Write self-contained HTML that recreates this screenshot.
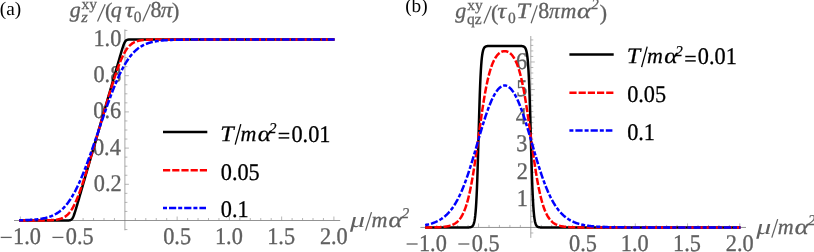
<!DOCTYPE html>
<html><head><meta charset="utf-8"><title>figure</title>
<style>html,body{margin:0;padding:0;background:#fff}body{width:814px;height:252px;overflow:hidden;font-family:"Liberation Serif",serif}svg{display:block;will-change:transform;text-rendering:geometricPrecision}</style>
</head><body>
<svg width="814" height="252" viewBox="0 0 814 252">
<rect width="814" height="252" fill="#fff"/>
<path d="M14 220.5H340.2" stroke="#777" stroke-width="0.8" fill="none"/>
<path d="M124.9 29.4V230.3" stroke="#777" stroke-width="0.65" fill="none"/>
<path d="M20.40 220.5v-4.0M30.85 220.5v-2.5M41.30 220.5v-2.5M51.75 220.5v-2.5M62.20 220.5v-2.5M72.65 220.5v-4.0M83.10 220.5v-2.5M93.55 220.5v-2.5M104.00 220.5v-2.5M114.45 220.5v-2.5M135.35 220.5v-2.5M145.80 220.5v-2.5M156.25 220.5v-2.5M166.70 220.5v-2.5M177.15 220.5v-4.0M187.60 220.5v-2.5M198.05 220.5v-2.5M208.50 220.5v-2.5M218.95 220.5v-2.5M229.40 220.5v-4.0M239.85 220.5v-2.5M250.30 220.5v-2.5M260.75 220.5v-2.5M271.20 220.5v-2.5M281.65 220.5v-4.0M292.10 220.5v-2.5M302.55 220.5v-2.5M313.00 220.5v-2.5M323.45 220.5v-2.5M333.90 220.5v-4.0M124.9 229.55h2.5M124.9 211.45h2.5M124.9 202.40h2.5M124.9 193.35h2.5M124.9 184.30h4.0M124.9 175.25h2.5M124.9 166.20h2.5M124.9 157.15h2.5M124.9 148.10h4.0M124.9 139.05h2.5M124.9 130.00h2.5M124.9 120.95h2.5M124.9 111.90h4.0M124.9 102.85h2.5M124.9 93.80h2.5M124.9 84.75h2.5M124.9 75.70h4.0M124.9 66.65h2.5M124.9 57.60h2.5M124.9 48.55h2.5M124.9 39.50h4.0M124.9 30.45h2.5" stroke="#909090" stroke-width="0.65" fill="none"/>
<path d="M420.4 227.45H746" stroke="#777" stroke-width="0.8" fill="none"/>
<path d="M530.8 36V237.9" stroke="#777" stroke-width="0.65" fill="none"/>
<path d="M426.30 227.45v-4.0M436.75 227.45v-2.5M447.20 227.45v-2.5M457.65 227.45v-2.5M468.10 227.45v-2.5M478.55 227.45v-4.0M489.00 227.45v-2.5M499.45 227.45v-2.5M509.90 227.45v-2.5M520.35 227.45v-2.5M541.25 227.45v-2.5M551.70 227.45v-2.5M562.15 227.45v-2.5M572.60 227.45v-2.5M583.05 227.45v-4.0M593.50 227.45v-2.5M603.95 227.45v-2.5M614.40 227.45v-2.5M624.85 227.45v-2.5M635.30 227.45v-4.0M645.75 227.45v-2.5M656.20 227.45v-2.5M666.65 227.45v-2.5M677.10 227.45v-2.5M687.55 227.45v-4.0M698.00 227.45v-2.5M708.45 227.45v-2.5M718.90 227.45v-2.5M729.35 227.45v-2.5M739.80 227.45v-4.0M530.8 232.97h2.5M530.8 221.93h2.5M530.8 216.42h2.5M530.8 210.90h2.5M530.8 205.39h2.5M530.8 199.87h4.0M530.8 194.35h2.5M530.8 188.84h2.5M530.8 183.32h2.5M530.8 177.81h2.5M530.8 172.29h4.0M530.8 166.77h2.5M530.8 161.26h2.5M530.8 155.74h2.5M530.8 150.23h2.5M530.8 144.71h4.0M530.8 139.19h2.5M530.8 133.68h2.5M530.8 128.16h2.5M530.8 122.65h2.5M530.8 117.13h4.0M530.8 111.61h2.5M530.8 106.10h2.5M530.8 100.58h2.5M530.8 95.07h2.5M530.8 89.55h4.0M530.8 84.03h2.5M530.8 78.52h2.5M530.8 73.00h2.5M530.8 67.49h2.5M530.8 61.97h4.0M530.8 56.45h2.5M530.8 50.94h2.5M530.8 45.42h2.5M530.8 39.91h2.5" stroke="#909090" stroke-width="0.65" fill="none"/>
<g font-family="Liberation Serif" font-size="22" fill="#606060" stroke="#606060" stroke-width="0.3">
<path d="M0.72 237.40h11.0" stroke="#606060" stroke-width="1.3"/>
<text transform="translate(13.06 244.00) scale(1 1.075)" font-size="22.3">1.0</text>
<path d="M406.62 244.00h11.0" stroke="#606060" stroke-width="1.3"/>
<text transform="translate(418.96 250.60) scale(1 1.075)" font-size="22.3">1.0</text>
<path d="M52.42 237.40h11.0" stroke="#606060" stroke-width="1.3"/>
<text transform="translate(65.87 244.00) scale(1 1.075)" font-size="22.3">0.5</text>
<path d="M458.32 244.00h11.0" stroke="#606060" stroke-width="1.3"/>
<text transform="translate(471.77 250.60) scale(1 1.075)" font-size="22.3">0.5</text>
<text transform="translate(163.22 244.00) scale(1 1.075)" font-size="22.3">0.5</text>
<text transform="translate(569.12 250.60) scale(1 1.075)" font-size="22.3">0.5</text>
<text transform="translate(214.91 244.00) scale(1 1.075)" font-size="22.3">1.0</text>
<text transform="translate(620.81 250.60) scale(1 1.075)" font-size="22.3">1.0</text>
<text transform="translate(267.17 244.00) scale(1 1.075)" font-size="22.3">1.5</text>
<text transform="translate(673.07 250.60) scale(1 1.075)" font-size="22.3">1.5</text>
<text transform="translate(319.90 244.00) scale(1 1.075)" font-size="22.3">2.0</text>
<text transform="translate(725.80 250.60) scale(1 1.075)" font-size="22.3">2.0</text>
<text transform="translate(93.86 190.80) scale(1 1.075)" font-size="22.3">0.2</text>
<text transform="translate(92.97 154.60) scale(1 1.075)" font-size="22.3">0.4</text>
<text transform="translate(93.29 118.40) scale(1 1.075)" font-size="22.3">0.6</text>
<text transform="translate(93.47 82.20) scale(1 1.075)" font-size="22.3">0.8</text>
<text transform="translate(93.47 46.00) scale(1 1.075)" font-size="22.3">1.0</text>
<text transform="translate(516.79 206.47) scale(1 1.075)" font-size="22.3">1</text>
<text transform="translate(516.68 178.89) scale(1 1.075)" font-size="22.3">2</text>
<text transform="translate(516.32 151.31) scale(1 1.075)" font-size="22.3">3</text>
<text transform="translate(515.80 123.73) scale(1 1.075)" font-size="22.3">4</text>
<text transform="translate(516.32 96.15) scale(1 1.075)" font-size="22.3">5</text>
<text transform="translate(516.11 68.57) scale(1 1.075)" font-size="22.3">6</text>
<text x="69.69" y="16.60" font-style="italic">g</text>
<text transform="translate(81.19 22.10) scale(1.1 1)" font-size="15.5" font-style="italic">z</text>
<text x="81.46" y="8.90" font-size="15.5">xy</text>
<path d="M97.50 21.40L105.20 4.20" stroke="#606060" stroke-width="1.25" fill="none"/>
<text x="105.03" y="17.80">(</text>
<text x="110.67" y="16.60" font-style="italic">q</text>
<text transform="translate(124.74 16.60) scale(1.15 1)" font-style="italic">τ</text>
<text x="133.81" y="21.80" font-size="15.5">0</text>
<path d="M142.70 21.40L150.40 4.20" stroke="#606060" stroke-width="1.25" fill="none"/>
<text transform="translate(150.56 16.60) scale(1 1.04)">8</text>
<text transform="translate(160.87 16.60) scale(1.08 1)" font-style="italic">π</text>
<text x="171.89" y="17.80">)</text>
<text x="455.19" y="18.40" font-style="italic">g</text>
<text x="466.94" y="23.80" font-size="15.5">qz</text>
<text x="467.36" y="9.50" font-size="15.5">xy</text>
<path d="M483.90 23.60L491.20 6.00" stroke="#606060" stroke-width="1.25" fill="none"/>
<text x="490.93" y="19.60">(</text>
<text transform="translate(497.24 18.40) scale(1.15 1)" font-style="italic">τ</text>
<text x="507.91" y="22.70" font-size="15.5">0</text>
<text transform="translate(516.52 18.40) scale(1.1 1)" font-style="italic">T</text>
<path d="M531.10 23.20L537.30 5.40" stroke="#606060" stroke-width="1.25" fill="none"/>
<text transform="translate(538.26 18.40) scale(1 1.04)">8</text>
<text transform="translate(548.88 18.40) scale(0.98 1)" font-style="italic">π</text>
<text x="560.51" y="18.40" font-style="italic">m</text>
<text transform="translate(577.01 18.40) scale(1.2 1)" font-style="italic">α</text>
<text x="591.29" y="9.40" font-size="15" font-style="italic">2</text>
<text x="599.69" y="19.60">)</text>
<text stroke="none" transform="translate(350.03 227.20) scale(1.36 1)" font-style="italic">μ</text>
<path d="M365.60 230.60L371.50 212.10" stroke="#606060" stroke-width="1.25" fill="none"/>
<text x="371.51" y="227.20" font-style="italic">m</text>
<text transform="translate(388.61 227.20) scale(1.2 1)" font-style="italic">α</text>
<text x="401.79" y="217.90" font-size="15" font-style="italic">2</text>
<text stroke="none" transform="translate(756.23 234.20) scale(1.36 1)" font-style="italic">μ</text>
<path d="M771.80 237.60L777.70 219.10" stroke="#606060" stroke-width="1.25" fill="none"/>
<text x="777.71" y="234.20" font-style="italic">m</text>
<text transform="translate(794.81 234.20) scale(1.2 1)" font-style="italic">α</text>
<text x="807.99" y="224.90" font-size="15" font-style="italic">2</text>
</g>
<path d="M19.25 220.50L19.60 220.50L19.95 220.50L20.29 220.50L20.64 220.50L20.99 220.50L21.34 220.50L21.69 220.50L22.03 220.50L22.38 220.50L22.73 220.50L23.08 220.50L23.43 220.50L23.77 220.50L24.12 220.50L24.47 220.50L24.82 220.50L25.17 220.50L25.51 220.50L25.86 220.50L26.21 220.50L26.56 220.50L26.91 220.50L27.25 220.50L27.60 220.50L27.95 220.50L28.30 220.50L28.65 220.50L28.99 220.50L29.34 220.50L29.69 220.50L30.04 220.50L30.39 220.50L30.73 220.50L31.08 220.50L31.43 220.50L31.78 220.50L32.13 220.50L32.47 220.50L32.82 220.50L33.17 220.50L33.52 220.50L33.87 220.50L34.21 220.50L34.56 220.50L34.91 220.50L35.26 220.50L35.61 220.50L35.95 220.50L36.30 220.50L36.65 220.50L37.00 220.50L37.35 220.50L37.69 220.50L38.04 220.50L38.39 220.50L38.74 220.50L39.09 220.50L39.43 220.50L39.78 220.50L40.13 220.50L40.48 220.50L40.83 220.50L41.17 220.50L41.52 220.50L41.87 220.50L42.22 220.50L42.57 220.50L42.91 220.50L43.26 220.50L43.61 220.50L43.96 220.50L44.31 220.50L44.65 220.50L45.00 220.50L45.35 220.50L45.70 220.50L46.05 220.50L46.39 220.50L46.74 220.50L47.09 220.50L47.44 220.50L47.79 220.50L48.13 220.50L48.48 220.50L48.83 220.50L49.18 220.50L49.53 220.50L49.87 220.50L50.22 220.50L50.57 220.50L50.92 220.50L51.27 220.50L51.61 220.50L51.96 220.50L52.31 220.50L52.66 220.50L53.01 220.50L53.35 220.50L53.70 220.50L54.05 220.50L54.40 220.50L54.75 220.50L55.09 220.50L55.44 220.50L55.79 220.50L56.14 220.50L56.49 220.50L56.83 220.50L57.18 220.50L57.53 220.50L57.88 220.50L58.23 220.50L58.57 220.50L58.92 220.50L59.27 220.50L59.62 220.50L59.97 220.50L60.31 220.50L60.66 220.50L61.01 220.50L61.36 220.50L61.70 220.50L62.05 220.50L62.40 220.50L62.75 220.50L63.10 220.50L63.44 220.50L63.79 220.50L64.14 220.50L64.49 220.50L64.84 220.50L65.18 220.50L65.53 220.50L65.88 220.49L66.23 220.49L66.58 220.49L66.92 220.48L67.27 220.48L67.62 220.47L67.97 220.46L68.32 220.44L68.66 220.42L69.01 220.39L69.36 220.35L69.71 220.29L70.06 220.21L70.40 220.10L70.75 219.95L71.10 219.76L71.45 219.50L71.80 219.18L72.14 218.76L72.49 218.25L72.84 217.65L73.19 216.94L73.54 216.14L73.88 215.25L74.23 214.30L74.58 213.28L74.93 212.22L75.28 211.12L75.62 209.99L75.97 208.84L76.32 207.68L76.67 206.50L77.02 205.32L77.36 204.13L77.71 202.93L78.06 201.74L78.41 200.54L78.76 199.34L79.10 198.13L79.45 196.93L79.80 195.73L80.15 194.52L80.50 193.32L80.84 192.11L81.19 190.91L81.54 189.70L81.89 188.50L82.24 187.29L82.58 186.09L82.93 184.88L83.28 183.68L83.63 182.47L83.98 181.26L84.32 180.06L84.67 178.85L85.02 177.65L85.37 176.44L85.72 175.24L86.06 174.03L86.41 172.83L86.76 171.62L87.11 170.42L87.46 169.21L87.80 168.00L88.15 166.80L88.50 165.59L88.85 164.39L89.20 163.18L89.54 161.98L89.89 160.77L90.24 159.57L90.59 158.36L90.94 157.16L91.28 155.95L91.63 154.74L91.98 153.54L92.33 152.33L92.68 151.13L93.02 149.92L93.37 148.72L93.72 147.51L94.07 146.31L94.42 145.10L94.76 143.90L95.11 142.69L95.46 141.48L95.81 140.28L96.16 139.07L96.50 137.87L96.85 136.66L97.20 135.46L97.55 134.25L97.90 133.05L98.24 131.84L98.59 130.64L98.94 129.43L99.29 128.22L99.64 127.02L99.98 125.81L100.33 124.61L100.68 123.40L101.03 122.20L101.38 120.99L101.72 119.79L102.07 118.58L102.42 117.38L102.77 116.17L103.12 114.96L103.46 113.76L103.81 112.55L104.16 111.35L104.51 110.14L104.86 108.94L105.20 107.73L105.55 106.53L105.90 105.32L106.25 104.12L106.60 102.91L106.94 101.70L107.29 100.50L107.64 99.29L107.99 98.09L108.34 96.88L108.68 95.68L109.03 94.47L109.38 93.27L109.73 92.06L110.08 90.85L110.42 89.65L110.77 88.44L111.12 87.24L111.47 86.03L111.82 84.83L112.16 83.62L112.51 82.42L112.86 81.21L113.21 80.01L113.56 78.80L113.90 77.59L114.25 76.39L114.60 75.18L114.95 73.98L115.29 72.77L115.64 71.57L115.99 70.36L116.34 69.16L116.69 67.95L117.03 66.75L117.38 65.54L117.73 64.34L118.08 63.13L118.43 61.93L118.77 60.73L119.12 59.53L119.47 58.33L119.82 57.13L120.17 55.94L120.51 54.74L120.86 53.56L121.21 52.38L121.56 51.22L121.91 50.07L122.25 48.94L122.60 47.84L122.95 46.77L123.30 45.76L123.65 44.80L123.99 43.91L124.34 43.10L124.69 42.39L125.04 41.78L125.39 41.26L125.73 40.84L126.08 40.51L126.43 40.25L126.78 40.05L127.13 39.91L127.47 39.80L127.82 39.71L128.17 39.65L128.52 39.61L128.87 39.58L129.21 39.56L129.56 39.54L129.91 39.53L130.26 39.52L130.61 39.52L130.95 39.51L131.30 39.51L131.65 39.51L132.00 39.50L132.35 39.50L132.69 39.50L133.04 39.50L133.39 39.50L133.74 39.50L134.09 39.50L134.43 39.50L134.78 39.50L135.13 39.50L135.48 39.50L135.83 39.50L136.17 39.50L136.52 39.50L136.87 39.50L137.22 39.50L137.57 39.50L137.91 39.50L138.26 39.50L138.61 39.50L138.96 39.50L139.31 39.50L139.65 39.50L140.00 39.50L140.35 39.50L140.70 39.50L141.05 39.50L141.39 39.50L141.74 39.50L142.09 39.50L142.44 39.50L142.79 39.50L143.13 39.50L143.48 39.50L143.83 39.50L144.18 39.50L144.53 39.50L144.87 39.50L145.22 39.50L145.57 39.50L145.92 39.50L146.27 39.50L146.61 39.50L146.96 39.50L147.31 39.50L147.66 39.50L148.01 39.50L148.35 39.50L148.70 39.50L149.05 39.50L149.40 39.50L149.75 39.50L150.09 39.50L150.44 39.50L150.79 39.50L151.14 39.50L151.49 39.50L151.83 39.50L152.18 39.50L152.53 39.50L152.88 39.50L153.23 39.50L153.57 39.50L153.92 39.50L154.27 39.50L154.62 39.50L154.97 39.50L155.31 39.50L155.66 39.50L156.01 39.50L156.36 39.50L156.71 39.50L157.05 39.50L157.40 39.50L157.75 39.50L158.10 39.50L158.45 39.50L158.79 39.50L159.14 39.50L159.49 39.50L159.84 39.50L160.19 39.50L160.53 39.50L160.88 39.50L161.23 39.50L161.58 39.50L161.93 39.50L162.27 39.50L162.62 39.50L162.97 39.50L163.32 39.50L163.67 39.50L164.01 39.50L164.36 39.50L164.71 39.50L165.06 39.50L165.41 39.50L165.75 39.50L166.10 39.50L166.45 39.50L166.80 39.50L167.15 39.50L167.49 39.50L167.84 39.50L168.19 39.50L168.54 39.50L168.89 39.50L169.23 39.50L169.58 39.50L169.93 39.50L170.28 39.50L170.62 39.50L170.97 39.50L171.32 39.50L171.67 39.50L172.02 39.50L172.36 39.50L172.71 39.50L173.06 39.50L173.41 39.50L173.76 39.50L174.10 39.50L174.45 39.50L174.80 39.50L175.15 39.50L175.50 39.50L175.84 39.50L176.19 39.50L176.54 39.50L176.89 39.50L177.24 39.50L177.58 39.50L177.93 39.50L178.28 39.50L178.63 39.50L178.98 39.50L179.32 39.50L179.67 39.50L180.02 39.50L180.37 39.50L180.72 39.50L181.06 39.50L181.41 39.50L181.76 39.50L182.11 39.50L182.46 39.50L182.80 39.50L183.15 39.50L183.50 39.50L183.85 39.50L184.20 39.50L184.54 39.50L184.89 39.50L185.24 39.50L185.59 39.50L185.94 39.50L186.28 39.50L186.63 39.50L186.98 39.50L187.33 39.50L187.68 39.50L188.02 39.50L188.37 39.50L188.72 39.50L189.07 39.50L189.42 39.50L189.76 39.50L190.11 39.50L190.46 39.50L190.81 39.50L191.16 39.50L191.50 39.50L191.85 39.50L192.20 39.50L192.55 39.50L192.90 39.50L193.24 39.50L193.59 39.50L193.94 39.50L194.29 39.50L194.64 39.50L194.98 39.50L195.33 39.50L195.68 39.50L196.03 39.50L196.38 39.50L196.72 39.50L197.07 39.50L197.42 39.50L197.77 39.50L198.12 39.50L198.46 39.50L198.81 39.50L199.16 39.50L199.51 39.50L199.86 39.50L200.20 39.50L200.55 39.50L200.90 39.50L201.25 39.50L201.60 39.50L201.94 39.50L202.29 39.50L202.64 39.50L202.99 39.50L203.34 39.50L203.68 39.50L204.03 39.50L204.38 39.50L204.73 39.50L205.08 39.50L205.42 39.50L205.77 39.50L206.12 39.50L206.47 39.50L206.82 39.50L207.16 39.50L207.51 39.50L207.86 39.50L208.21 39.50L208.56 39.50L208.90 39.50L209.25 39.50L209.60 39.50L209.95 39.50L210.30 39.50L210.64 39.50L210.99 39.50L211.34 39.50L211.69 39.50L212.04 39.50L212.38 39.50L212.73 39.50L213.08 39.50L213.43 39.50L213.78 39.50L214.12 39.50L214.47 39.50L214.82 39.50L215.17 39.50L215.52 39.50L215.86 39.50L216.21 39.50L216.56 39.50L216.91 39.50L217.26 39.50L217.60 39.50L217.95 39.50L218.30 39.50L218.65 39.50L219.00 39.50L219.34 39.50L219.69 39.50L220.04 39.50L220.39 39.50L220.74 39.50L221.08 39.50L221.43 39.50L221.78 39.50L222.13 39.50L222.48 39.50L222.82 39.50L223.17 39.50L223.52 39.50L223.87 39.50L224.22 39.50L224.56 39.50L224.91 39.50L225.26 39.50L225.61 39.50L225.95 39.50L226.30 39.50L226.65 39.50L227.00 39.50L227.35 39.50L227.69 39.50L228.04 39.50L228.39 39.50L228.74 39.50L229.09 39.50L229.43 39.50L229.78 39.50L230.13 39.50L230.48 39.50L230.83 39.50L231.17 39.50L231.52 39.50L231.87 39.50L232.22 39.50L232.57 39.50L232.91 39.50L233.26 39.50L233.61 39.50L233.96 39.50L234.31 39.50L234.65 39.50L235.00 39.50L235.35 39.50L235.70 39.50L236.05 39.50L236.39 39.50L236.74 39.50L237.09 39.50L237.44 39.50L237.79 39.50L238.13 39.50L238.48 39.50L238.83 39.50L239.18 39.50L239.53 39.50L239.87 39.50L240.22 39.50L240.57 39.50L240.92 39.50L241.27 39.50L241.61 39.50L241.96 39.50L242.31 39.50L242.66 39.50L243.01 39.50L243.35 39.50L243.70 39.50L244.05 39.50L244.40 39.50L244.75 39.50L245.09 39.50L245.44 39.50L245.79 39.50L246.14 39.50L246.49 39.50L246.83 39.50L247.18 39.50L247.53 39.50L247.88 39.50L248.23 39.50L248.57 39.50L248.92 39.50L249.27 39.50L249.62 39.50L249.97 39.50L250.31 39.50L250.66 39.50L251.01 39.50L251.36 39.50L251.71 39.50L252.05 39.50L252.40 39.50L252.75 39.50L253.10 39.50L253.45 39.50L253.79 39.50L254.14 39.50L254.49 39.50L254.84 39.50L255.19 39.50L255.53 39.50L255.88 39.50L256.23 39.50L256.58 39.50L256.93 39.50L257.27 39.50L257.62 39.50L257.97 39.50L258.32 39.50L258.67 39.50L259.01 39.50L259.36 39.50L259.71 39.50L260.06 39.50L260.41 39.50L260.75 39.50L261.10 39.50L261.45 39.50L261.80 39.50L262.15 39.50L262.49 39.50L262.84 39.50L263.19 39.50L263.54 39.50L263.89 39.50L264.23 39.50L264.58 39.50L264.93 39.50L265.28 39.50L265.63 39.50L265.97 39.50L266.32 39.50L266.67 39.50L267.02 39.50L267.37 39.50L267.71 39.50L268.06 39.50L268.41 39.50L268.76 39.50L269.11 39.50L269.45 39.50L269.80 39.50L270.15 39.50L270.50 39.50L270.85 39.50L271.19 39.50L271.54 39.50L271.89 39.50L272.24 39.50L272.59 39.50L272.93 39.50L273.28 39.50L273.63 39.50L273.98 39.50L274.33 39.50L274.67 39.50L275.02 39.50L275.37 39.50L275.72 39.50L276.07 39.50L276.41 39.50L276.76 39.50L277.11 39.50L277.46 39.50L277.81 39.50L278.15 39.50L278.50 39.50L278.85 39.50L279.20 39.50L279.55 39.50L279.89 39.50L280.24 39.50L280.59 39.50L280.94 39.50L281.28 39.50L281.63 39.50L281.98 39.50L282.33 39.50L282.68 39.50L283.02 39.50L283.37 39.50L283.72 39.50L284.07 39.50L284.42 39.50L284.76 39.50L285.11 39.50L285.46 39.50L285.81 39.50L286.16 39.50L286.50 39.50L286.85 39.50L287.20 39.50L287.55 39.50L287.90 39.50L288.24 39.50L288.59 39.50L288.94 39.50L289.29 39.50L289.64 39.50L289.98 39.50L290.33 39.50L290.68 39.50L291.03 39.50L291.38 39.50L291.72 39.50L292.07 39.50L292.42 39.50L292.77 39.50L293.12 39.50L293.46 39.50L293.81 39.50L294.16 39.50L294.51 39.50L294.86 39.50L295.20 39.50L295.55 39.50L295.90 39.50L296.25 39.50L296.60 39.50L296.94 39.50L297.29 39.50L297.64 39.50L297.99 39.50L298.34 39.50L298.68 39.50L299.03 39.50L299.38 39.50L299.73 39.50L300.08 39.50L300.42 39.50L300.77 39.50L301.12 39.50L301.47 39.50L301.82 39.50L302.16 39.50L302.51 39.50L302.86 39.50L303.21 39.50L303.56 39.50L303.90 39.50L304.25 39.50L304.60 39.50L304.95 39.50L305.30 39.50L305.64 39.50L305.99 39.50L306.34 39.50L306.69 39.50L307.04 39.50L307.38 39.50L307.73 39.50L308.08 39.50L308.43 39.50L308.78 39.50L309.12 39.50L309.47 39.50L309.82 39.50L310.17 39.50L310.52 39.50L310.86 39.50L311.21 39.50L311.56 39.50L311.91 39.50L312.26 39.50L312.60 39.50L312.95 39.50L313.30 39.50L313.65 39.50L314.00 39.50L314.34 39.50L314.69 39.50L315.04 39.50L315.39 39.50L315.74 39.50L316.08 39.50L316.43 39.50L316.78 39.50L317.13 39.50L317.48 39.50L317.82 39.50L318.17 39.50L318.52 39.50L318.87 39.50L319.22 39.50L319.56 39.50L319.91 39.50L320.26 39.50L320.61 39.50L320.96 39.50L321.30 39.50L321.65 39.50L322.00 39.50L322.35 39.50L322.70 39.50L323.04 39.50L323.39 39.50L323.74 39.50L324.09 39.50L324.44 39.50L324.78 39.50L325.13 39.50L325.48 39.50L325.83 39.50L326.18 39.50L326.52 39.50L326.87 39.50L327.22 39.50L327.57 39.50L327.92 39.50L328.26 39.50L328.61 39.50L328.96 39.50L329.31 39.50L329.66 39.50L330.00 39.50L330.35 39.50L330.70 39.50L331.05 39.50L331.40 39.50L331.74 39.50L332.09 39.50L332.44 39.50L332.79 39.50L333.14 39.50L333.48 39.50L333.83 39.50L334.18 39.50L334.53 39.50" stroke="#000" stroke-width="2.5" fill="none" stroke-linejoin="round"/>
<path d="M19.25 220.50L19.60 220.50L19.95 220.50L20.29 220.50L20.64 220.50L20.99 220.50L21.34 220.50L21.69 220.50L22.03 220.50L22.38 220.50L22.73 220.50L23.08 220.50L23.43 220.50L23.77 220.50L24.12 220.50L24.47 220.50L24.82 220.50L25.17 220.50L25.51 220.50L25.86 220.50L26.21 220.50L26.56 220.50L26.91 220.50L27.25 220.50L27.60 220.50L27.95 220.50L28.30 220.50L28.65 220.50L28.99 220.50L29.34 220.50L29.69 220.50L30.04 220.49L30.39 220.49L30.73 220.49L31.08 220.49L31.43 220.49L31.78 220.49L32.13 220.49L32.47 220.49L32.82 220.49L33.17 220.49L33.52 220.49L33.87 220.49L34.21 220.49L34.56 220.49L34.91 220.49L35.26 220.49L35.61 220.48L35.95 220.48L36.30 220.48L36.65 220.48L37.00 220.48L37.35 220.48L37.69 220.48L38.04 220.48L38.39 220.47L38.74 220.47L39.09 220.47L39.43 220.47L39.78 220.47L40.13 220.46L40.48 220.46L40.83 220.46L41.17 220.46L41.52 220.45L41.87 220.45L42.22 220.45L42.57 220.44L42.91 220.44L43.26 220.43L43.61 220.43L43.96 220.43L44.31 220.42L44.65 220.41L45.00 220.41L45.35 220.40L45.70 220.40L46.05 220.39L46.39 220.38L46.74 220.37L47.09 220.36L47.44 220.36L47.79 220.35L48.13 220.33L48.48 220.32L48.83 220.31L49.18 220.30L49.53 220.28L49.87 220.27L50.22 220.25L50.57 220.24L50.92 220.22L51.27 220.20L51.61 220.18L51.96 220.16L52.31 220.13L52.66 220.11L53.01 220.08L53.35 220.05L53.70 220.02L54.05 219.99L54.40 219.96L54.75 219.92L55.09 219.88L55.44 219.84L55.79 219.80L56.14 219.75L56.49 219.70L56.83 219.64L57.18 219.59L57.53 219.52L57.88 219.46L58.23 219.39L58.57 219.32L58.92 219.24L59.27 219.15L59.62 219.06L59.97 218.97L60.31 218.87L60.66 218.76L61.01 218.65L61.36 218.53L61.70 218.40L62.05 218.26L62.40 218.12L62.75 217.97L63.10 217.80L63.44 217.63L63.79 217.45L64.14 217.26L64.49 217.05L64.84 216.84L65.18 216.61L65.53 216.37L65.88 216.12L66.23 215.85L66.58 215.57L66.92 215.28L67.27 214.97L67.62 214.65L67.97 214.30L68.32 213.95L68.66 213.57L69.01 213.18L69.36 212.77L69.71 212.34L70.06 211.89L70.40 211.43L70.75 210.94L71.10 210.44L71.45 209.92L71.80 209.37L72.14 208.81L72.49 208.23L72.84 207.62L73.19 207.00L73.54 206.35L73.88 205.69L74.23 205.01L74.58 204.30L74.93 203.58L75.28 202.84L75.62 202.08L75.97 201.30L76.32 200.50L76.67 199.69L77.02 198.86L77.36 198.01L77.71 197.14L78.06 196.26L78.41 195.36L78.76 194.45L79.10 193.52L79.45 192.58L79.80 191.63L80.15 190.66L80.50 189.68L80.84 188.69L81.19 187.69L81.54 186.67L81.89 185.65L82.24 184.62L82.58 183.57L82.93 182.52L83.28 181.46L83.63 180.39L83.98 179.31L84.32 178.23L84.67 177.13L85.02 176.04L85.37 174.93L85.72 173.82L86.06 172.70L86.41 171.58L86.76 170.46L87.11 169.33L87.46 168.19L87.80 167.05L88.15 165.91L88.50 164.76L88.85 163.61L89.20 162.46L89.54 161.30L89.89 160.14L90.24 158.98L90.59 157.81L90.94 156.64L91.28 155.47L91.63 154.30L91.98 153.13L92.33 151.96L92.68 150.78L93.02 149.60L93.37 148.42L93.72 147.24L94.07 146.06L94.42 144.88L94.76 143.69L95.11 142.51L95.46 141.32L95.81 140.13L96.16 138.95L96.50 137.76L96.85 136.57L97.20 135.38L97.55 134.19L97.90 133.01L98.24 131.82L98.59 130.63L98.94 129.44L99.29 128.25L99.64 127.06L99.98 125.87L100.33 124.68L100.68 123.49L101.03 122.30L101.38 121.12L101.72 119.93L102.07 118.74L102.42 117.56L102.77 116.37L103.12 115.19L103.46 114.01L103.81 112.82L104.16 111.64L104.51 110.46L104.86 109.29L105.20 108.11L105.55 106.93L105.90 105.76L106.25 104.59L106.60 103.42L106.94 102.25L107.29 101.09L107.64 99.92L107.99 98.76L108.34 97.61L108.68 96.45L109.03 95.30L109.38 94.15L109.73 93.01L110.08 91.87L110.42 90.74L110.77 89.60L111.12 88.48L111.47 87.36L111.82 86.24L112.16 85.13L112.51 84.02L112.86 82.92L113.21 81.83L113.56 80.75L113.90 79.67L114.25 78.60L114.60 77.54L114.95 76.48L115.29 75.44L115.64 74.41L115.99 73.38L116.34 72.37L116.69 71.36L117.03 70.37L117.38 69.39L117.73 68.42L118.08 67.47L118.43 66.53L118.77 65.60L119.12 64.69L119.47 63.79L119.82 62.90L120.17 62.04L120.51 61.19L120.86 60.36L121.21 59.54L121.56 58.74L121.91 57.96L122.25 57.20L122.60 56.46L122.95 55.73L123.30 55.03L123.65 54.35L123.99 53.68L124.34 53.04L124.69 52.41L125.04 51.81L125.39 51.22L125.73 50.66L126.08 50.11L126.43 49.59L126.78 49.08L127.13 48.60L127.47 48.13L127.82 47.68L128.17 47.25L128.52 46.84L128.87 46.45L129.21 46.07L129.56 45.71L129.91 45.37L130.26 45.05L130.61 44.74L130.95 44.44L131.30 44.16L131.65 43.89L132.00 43.64L132.35 43.40L132.69 43.17L133.04 42.96L133.39 42.75L133.74 42.56L134.09 42.38L134.43 42.21L134.78 42.04L135.13 41.89L135.48 41.74L135.83 41.61L136.17 41.48L136.52 41.36L136.87 41.24L137.22 41.14L137.57 41.04L137.91 40.94L138.26 40.85L138.61 40.77L138.96 40.69L139.31 40.61L139.65 40.54L140.00 40.48L140.35 40.42L140.70 40.36L141.05 40.31L141.39 40.25L141.74 40.21L142.09 40.16L142.44 40.12L142.79 40.08L143.13 40.04L143.48 40.01L143.83 39.98L144.18 39.95L144.53 39.92L144.87 39.89L145.22 39.87L145.57 39.84L145.92 39.82L146.27 39.80L146.61 39.78L146.96 39.76L147.31 39.75L147.66 39.73L148.01 39.72L148.35 39.70L148.70 39.69L149.05 39.68L149.40 39.67L149.75 39.66L150.09 39.65L150.44 39.64L150.79 39.63L151.14 39.62L151.49 39.61L151.83 39.60L152.18 39.60L152.53 39.59L152.88 39.59L153.23 39.58L153.57 39.57L153.92 39.57L154.27 39.57L154.62 39.56L154.97 39.56L155.31 39.55L155.66 39.55L156.01 39.55L156.36 39.54L156.71 39.54L157.05 39.54L157.40 39.54L157.75 39.53L158.10 39.53L158.45 39.53L158.79 39.53L159.14 39.53L159.49 39.52L159.84 39.52L160.19 39.52L160.53 39.52L160.88 39.52L161.23 39.52L161.58 39.52L161.93 39.52L162.27 39.51L162.62 39.51L162.97 39.51L163.32 39.51L163.67 39.51L164.01 39.51L164.36 39.51L164.71 39.51L165.06 39.51L165.41 39.51L165.75 39.51L166.10 39.51L166.45 39.51L166.80 39.51L167.15 39.51L167.49 39.51L167.84 39.50L168.19 39.50L168.54 39.50L168.89 39.50L169.23 39.50L169.58 39.50L169.93 39.50L170.28 39.50L170.62 39.50L170.97 39.50L171.32 39.50L171.67 39.50L172.02 39.50L172.36 39.50L172.71 39.50L173.06 39.50L173.41 39.50L173.76 39.50L174.10 39.50L174.45 39.50L174.80 39.50L175.15 39.50L175.50 39.50L175.84 39.50L176.19 39.50L176.54 39.50L176.89 39.50L177.24 39.50L177.58 39.50L177.93 39.50L178.28 39.50L178.63 39.50L178.98 39.50L179.32 39.50L179.67 39.50L180.02 39.50L180.37 39.50L180.72 39.50L181.06 39.50L181.41 39.50L181.76 39.50L182.11 39.50L182.46 39.50L182.80 39.50L183.15 39.50L183.50 39.50L183.85 39.50L184.20 39.50L184.54 39.50L184.89 39.50L185.24 39.50L185.59 39.50L185.94 39.50L186.28 39.50L186.63 39.50L186.98 39.50L187.33 39.50L187.68 39.50L188.02 39.50L188.37 39.50L188.72 39.50L189.07 39.50L189.42 39.50L189.76 39.50L190.11 39.50L190.46 39.50L190.81 39.50L191.16 39.50L191.50 39.50L191.85 39.50L192.20 39.50L192.55 39.50L192.90 39.50L193.24 39.50L193.59 39.50L193.94 39.50L194.29 39.50L194.64 39.50L194.98 39.50L195.33 39.50L195.68 39.50L196.03 39.50L196.38 39.50L196.72 39.50L197.07 39.50L197.42 39.50L197.77 39.50L198.12 39.50L198.46 39.50L198.81 39.50L199.16 39.50L199.51 39.50L199.86 39.50L200.20 39.50L200.55 39.50L200.90 39.50L201.25 39.50L201.60 39.50L201.94 39.50L202.29 39.50L202.64 39.50L202.99 39.50L203.34 39.50L203.68 39.50L204.03 39.50L204.38 39.50L204.73 39.50L205.08 39.50L205.42 39.50L205.77 39.50L206.12 39.50L206.47 39.50L206.82 39.50L207.16 39.50L207.51 39.50L207.86 39.50L208.21 39.50L208.56 39.50L208.90 39.50L209.25 39.50L209.60 39.50L209.95 39.50L210.30 39.50L210.64 39.50L210.99 39.50L211.34 39.50L211.69 39.50L212.04 39.50L212.38 39.50L212.73 39.50L213.08 39.50L213.43 39.50L213.78 39.50L214.12 39.50L214.47 39.50L214.82 39.50L215.17 39.50L215.52 39.50L215.86 39.50L216.21 39.50L216.56 39.50L216.91 39.50L217.26 39.50L217.60 39.50L217.95 39.50L218.30 39.50L218.65 39.50L219.00 39.50L219.34 39.50L219.69 39.50L220.04 39.50L220.39 39.50L220.74 39.50L221.08 39.50L221.43 39.50L221.78 39.50L222.13 39.50L222.48 39.50L222.82 39.50L223.17 39.50L223.52 39.50L223.87 39.50L224.22 39.50L224.56 39.50L224.91 39.50L225.26 39.50L225.61 39.50L225.95 39.50L226.30 39.50L226.65 39.50L227.00 39.50L227.35 39.50L227.69 39.50L228.04 39.50L228.39 39.50L228.74 39.50L229.09 39.50L229.43 39.50L229.78 39.50L230.13 39.50L230.48 39.50L230.83 39.50L231.17 39.50L231.52 39.50L231.87 39.50L232.22 39.50L232.57 39.50L232.91 39.50L233.26 39.50L233.61 39.50L233.96 39.50L234.31 39.50L234.65 39.50L235.00 39.50L235.35 39.50L235.70 39.50L236.05 39.50L236.39 39.50L236.74 39.50L237.09 39.50L237.44 39.50L237.79 39.50L238.13 39.50L238.48 39.50L238.83 39.50L239.18 39.50L239.53 39.50L239.87 39.50L240.22 39.50L240.57 39.50L240.92 39.50L241.27 39.50L241.61 39.50L241.96 39.50L242.31 39.50L242.66 39.50L243.01 39.50L243.35 39.50L243.70 39.50L244.05 39.50L244.40 39.50L244.75 39.50L245.09 39.50L245.44 39.50L245.79 39.50L246.14 39.50L246.49 39.50L246.83 39.50L247.18 39.50L247.53 39.50L247.88 39.50L248.23 39.50L248.57 39.50L248.92 39.50L249.27 39.50L249.62 39.50L249.97 39.50L250.31 39.50L250.66 39.50L251.01 39.50L251.36 39.50L251.71 39.50L252.05 39.50L252.40 39.50L252.75 39.50L253.10 39.50L253.45 39.50L253.79 39.50L254.14 39.50L254.49 39.50L254.84 39.50L255.19 39.50L255.53 39.50L255.88 39.50L256.23 39.50L256.58 39.50L256.93 39.50L257.27 39.50L257.62 39.50L257.97 39.50L258.32 39.50L258.67 39.50L259.01 39.50L259.36 39.50L259.71 39.50L260.06 39.50L260.41 39.50L260.75 39.50L261.10 39.50L261.45 39.50L261.80 39.50L262.15 39.50L262.49 39.50L262.84 39.50L263.19 39.50L263.54 39.50L263.89 39.50L264.23 39.50L264.58 39.50L264.93 39.50L265.28 39.50L265.63 39.50L265.97 39.50L266.32 39.50L266.67 39.50L267.02 39.50L267.37 39.50L267.71 39.50L268.06 39.50L268.41 39.50L268.76 39.50L269.11 39.50L269.45 39.50L269.80 39.50L270.15 39.50L270.50 39.50L270.85 39.50L271.19 39.50L271.54 39.50L271.89 39.50L272.24 39.50L272.59 39.50L272.93 39.50L273.28 39.50L273.63 39.50L273.98 39.50L274.33 39.50L274.67 39.50L275.02 39.50L275.37 39.50L275.72 39.50L276.07 39.50L276.41 39.50L276.76 39.50L277.11 39.50L277.46 39.50L277.81 39.50L278.15 39.50L278.50 39.50L278.85 39.50L279.20 39.50L279.55 39.50L279.89 39.50L280.24 39.50L280.59 39.50L280.94 39.50L281.28 39.50L281.63 39.50L281.98 39.50L282.33 39.50L282.68 39.50L283.02 39.50L283.37 39.50L283.72 39.50L284.07 39.50L284.42 39.50L284.76 39.50L285.11 39.50L285.46 39.50L285.81 39.50L286.16 39.50L286.50 39.50L286.85 39.50L287.20 39.50L287.55 39.50L287.90 39.50L288.24 39.50L288.59 39.50L288.94 39.50L289.29 39.50L289.64 39.50L289.98 39.50L290.33 39.50L290.68 39.50L291.03 39.50L291.38 39.50L291.72 39.50L292.07 39.50L292.42 39.50L292.77 39.50L293.12 39.50L293.46 39.50L293.81 39.50L294.16 39.50L294.51 39.50L294.86 39.50L295.20 39.50L295.55 39.50L295.90 39.50L296.25 39.50L296.60 39.50L296.94 39.50L297.29 39.50L297.64 39.50L297.99 39.50L298.34 39.50L298.68 39.50L299.03 39.50L299.38 39.50L299.73 39.50L300.08 39.50L300.42 39.50L300.77 39.50L301.12 39.50L301.47 39.50L301.82 39.50L302.16 39.50L302.51 39.50L302.86 39.50L303.21 39.50L303.56 39.50L303.90 39.50L304.25 39.50L304.60 39.50L304.95 39.50L305.30 39.50L305.64 39.50L305.99 39.50L306.34 39.50L306.69 39.50L307.04 39.50L307.38 39.50L307.73 39.50L308.08 39.50L308.43 39.50L308.78 39.50L309.12 39.50L309.47 39.50L309.82 39.50L310.17 39.50L310.52 39.50L310.86 39.50L311.21 39.50L311.56 39.50L311.91 39.50L312.26 39.50L312.60 39.50L312.95 39.50L313.30 39.50L313.65 39.50L314.00 39.50L314.34 39.50L314.69 39.50L315.04 39.50L315.39 39.50L315.74 39.50L316.08 39.50L316.43 39.50L316.78 39.50L317.13 39.50L317.48 39.50L317.82 39.50L318.17 39.50L318.52 39.50L318.87 39.50L319.22 39.50L319.56 39.50L319.91 39.50L320.26 39.50L320.61 39.50L320.96 39.50L321.30 39.50L321.65 39.50L322.00 39.50L322.35 39.50L322.70 39.50L323.04 39.50L323.39 39.50L323.74 39.50L324.09 39.50L324.44 39.50L324.78 39.50L325.13 39.50L325.48 39.50L325.83 39.50L326.18 39.50L326.52 39.50L326.87 39.50L327.22 39.50L327.57 39.50L327.92 39.50L328.26 39.50L328.61 39.50L328.96 39.50L329.31 39.50L329.66 39.50L330.00 39.50L330.35 39.50L330.70 39.50L331.05 39.50L331.40 39.50L331.74 39.50L332.09 39.50L332.44 39.50L332.79 39.50L333.14 39.50L333.48 39.50L333.83 39.50L334.18 39.50L334.53 39.50" stroke="#f00" stroke-width="2.5" fill="none" stroke-dasharray="7.2 2" stroke-linejoin="round"/>
<path d="M19.25 220.28L19.60 220.28L19.95 220.27L20.29 220.26L20.64 220.25L20.99 220.24L21.34 220.24L21.69 220.23L22.03 220.22L22.38 220.21L22.73 220.20L23.08 220.19L23.43 220.18L23.77 220.17L24.12 220.16L24.47 220.14L24.82 220.13L25.17 220.12L25.51 220.11L25.86 220.09L26.21 220.08L26.56 220.07L26.91 220.05L27.25 220.04L27.60 220.02L27.95 220.00L28.30 219.99L28.65 219.97L28.99 219.95L29.34 219.93L29.69 219.92L30.04 219.90L30.39 219.88L30.73 219.85L31.08 219.83L31.43 219.81L31.78 219.79L32.13 219.76L32.47 219.74L32.82 219.71L33.17 219.69L33.52 219.66L33.87 219.63L34.21 219.60L34.56 219.57L34.91 219.54L35.26 219.51L35.61 219.48L35.95 219.44L36.30 219.41L36.65 219.37L37.00 219.33L37.35 219.29L37.69 219.25L38.04 219.21L38.39 219.17L38.74 219.13L39.09 219.08L39.43 219.03L39.78 218.98L40.13 218.93L40.48 218.88L40.83 218.83L41.17 218.77L41.52 218.72L41.87 218.66L42.22 218.60L42.57 218.53L42.91 218.47L43.26 218.40L43.61 218.33L43.96 218.26L44.31 218.19L44.65 218.11L45.00 218.04L45.35 217.96L45.70 217.87L46.05 217.79L46.39 217.70L46.74 217.61L47.09 217.51L47.44 217.42L47.79 217.32L48.13 217.21L48.48 217.11L48.83 217.00L49.18 216.89L49.53 216.77L49.87 216.65L50.22 216.53L50.57 216.40L50.92 216.27L51.27 216.13L51.61 215.99L51.96 215.85L52.31 215.70L52.66 215.55L53.01 215.40L53.35 215.24L53.70 215.07L54.05 214.90L54.40 214.72L54.75 214.54L55.09 214.36L55.44 214.17L55.79 213.97L56.14 213.77L56.49 213.56L56.83 213.35L57.18 213.13L57.53 212.91L57.88 212.68L58.23 212.44L58.57 212.20L58.92 211.95L59.27 211.69L59.62 211.43L59.97 211.16L60.31 210.88L60.66 210.60L61.01 210.30L61.36 210.01L61.70 209.70L62.05 209.38L62.40 209.06L62.75 208.73L63.10 208.40L63.44 208.05L63.79 207.70L64.14 207.33L64.49 206.96L64.84 206.58L65.18 206.20L65.53 205.80L65.88 205.39L66.23 204.98L66.58 204.56L66.92 204.12L67.27 203.68L67.62 203.23L67.97 202.77L68.32 202.30L68.66 201.82L69.01 201.33L69.36 200.84L69.71 200.33L70.06 199.81L70.40 199.28L70.75 198.75L71.10 198.20L71.45 197.65L71.80 197.08L72.14 196.50L72.49 195.92L72.84 195.32L73.19 194.72L73.54 194.10L73.88 193.48L74.23 192.85L74.58 192.20L74.93 191.55L75.28 190.89L75.62 190.21L75.97 189.53L76.32 188.84L76.67 188.14L77.02 187.43L77.36 186.71L77.71 185.98L78.06 185.24L78.41 184.50L78.76 183.74L79.10 182.98L79.45 182.21L79.80 181.43L80.15 180.64L80.50 179.84L80.84 179.03L81.19 178.22L81.54 177.40L81.89 176.57L82.24 175.73L82.58 174.88L82.93 174.03L83.28 173.17L83.63 172.30L83.98 171.43L84.32 170.55L84.67 169.66L85.02 168.77L85.37 167.87L85.72 166.96L86.06 166.05L86.41 165.13L86.76 164.21L87.11 163.28L87.46 162.34L87.80 161.40L88.15 160.46L88.50 159.51L88.85 158.55L89.20 157.59L89.54 156.63L89.89 155.66L90.24 154.69L90.59 153.71L90.94 152.73L91.28 151.75L91.63 150.76L91.98 149.77L92.33 148.78L92.68 147.78L93.02 146.78L93.37 145.78L93.72 144.77L94.07 143.77L94.42 142.76L94.76 141.75L95.11 140.73L95.46 139.72L95.81 138.70L96.16 137.69L96.50 136.67L96.85 135.65L97.20 134.63L97.55 133.61L97.90 132.58L98.24 131.56L98.59 130.54L98.94 129.52L99.29 128.49L99.64 127.47L99.98 126.45L100.33 125.43L100.68 124.41L101.03 123.39L101.38 122.37L101.72 121.35L102.07 120.34L102.42 119.32L102.77 118.31L103.12 117.30L103.46 116.29L103.81 115.28L104.16 114.28L104.51 113.27L104.86 112.27L105.20 111.28L105.55 110.28L105.90 109.29L106.25 108.31L106.60 107.32L106.94 106.34L107.29 105.36L107.64 104.39L107.99 103.42L108.34 102.46L108.68 101.50L109.03 100.54L109.38 99.59L109.73 98.65L110.08 97.71L110.42 96.77L110.77 95.84L111.12 94.92L111.47 94.00L111.82 93.09L112.16 92.18L112.51 91.28L112.86 90.39L113.21 89.50L113.56 88.62L113.90 87.74L114.25 86.88L114.60 86.02L114.95 85.16L115.29 84.32L115.64 83.48L115.99 82.65L116.34 81.83L116.69 81.01L117.03 80.21L117.38 79.41L117.73 78.62L118.08 77.84L118.43 77.06L118.77 76.30L119.12 75.54L119.47 74.80L119.82 74.06L120.17 73.33L120.51 72.61L120.86 71.90L121.21 71.20L121.56 70.51L121.91 69.82L122.25 69.15L122.60 68.49L122.95 67.83L123.30 67.19L123.65 66.55L123.99 65.93L124.34 65.31L124.69 64.71L125.04 64.11L125.39 63.53L125.73 62.95L126.08 62.38L126.43 61.83L126.78 61.28L127.13 60.74L127.47 60.22L127.82 59.70L128.17 59.19L128.52 58.69L128.87 58.20L129.21 57.72L129.56 57.25L129.91 56.79L130.26 56.34L130.61 55.90L130.95 55.47L131.30 55.04L131.65 54.63L132.00 54.22L132.35 53.83L132.69 53.44L133.04 53.06L133.39 52.69L133.74 52.32L134.09 51.97L134.43 51.62L134.78 51.28L135.13 50.95L135.48 50.63L135.83 50.32L136.17 50.01L136.52 49.71L136.87 49.42L137.22 49.14L137.57 48.86L137.91 48.59L138.26 48.32L138.61 48.07L138.96 47.82L139.31 47.57L139.65 47.34L140.00 47.10L140.35 46.88L140.70 46.66L141.05 46.45L141.39 46.24L141.74 46.04L142.09 45.84L142.44 45.65L142.79 45.47L143.13 45.29L143.48 45.11L143.83 44.94L144.18 44.77L144.53 44.61L144.87 44.46L145.22 44.30L145.57 44.16L145.92 44.01L146.27 43.87L146.61 43.74L146.96 43.61L147.31 43.48L147.66 43.36L148.01 43.24L148.35 43.12L148.70 43.01L149.05 42.90L149.40 42.79L149.75 42.69L150.09 42.59L150.44 42.49L150.79 42.40L151.14 42.31L151.49 42.22L151.83 42.13L152.18 42.05L152.53 41.97L152.88 41.89L153.23 41.81L153.57 41.74L153.92 41.67L154.27 41.60L154.62 41.53L154.97 41.47L155.31 41.41L155.66 41.35L156.01 41.29L156.36 41.23L156.71 41.17L157.05 41.12L157.40 41.07L157.75 41.02L158.10 40.97L158.45 40.92L158.79 40.88L159.14 40.83L159.49 40.79L159.84 40.75L160.19 40.71L160.53 40.67L160.88 40.63L161.23 40.59L161.58 40.56L161.93 40.53L162.27 40.49L162.62 40.46L162.97 40.43L163.32 40.40L163.67 40.37L164.01 40.34L164.36 40.31L164.71 40.29L165.06 40.26L165.41 40.24L165.75 40.21L166.10 40.19L166.45 40.17L166.80 40.15L167.15 40.13L167.49 40.11L167.84 40.09L168.19 40.07L168.54 40.05L168.89 40.03L169.23 40.01L169.58 40.00L169.93 39.98L170.28 39.96L170.62 39.95L170.97 39.93L171.32 39.92L171.67 39.91L172.02 39.89L172.36 39.88L172.71 39.87L173.06 39.86L173.41 39.84L173.76 39.83L174.10 39.82L174.45 39.81L174.80 39.80L175.15 39.79L175.50 39.78L175.84 39.77L176.19 39.76L176.54 39.76L176.89 39.75L177.24 39.74L177.58 39.73L177.93 39.72L178.28 39.72L178.63 39.71L178.98 39.70L179.32 39.70L179.67 39.69L180.02 39.68L180.37 39.68L180.72 39.67L181.06 39.67L181.41 39.66L181.76 39.66L182.11 39.65L182.46 39.65L182.80 39.64L183.15 39.64L183.50 39.63L183.85 39.63L184.20 39.62L184.54 39.62L184.89 39.62L185.24 39.61L185.59 39.61L185.94 39.60L186.28 39.60L186.63 39.60L186.98 39.59L187.33 39.59L187.68 39.59L188.02 39.59L188.37 39.58L188.72 39.58L189.07 39.58L189.42 39.57L189.76 39.57L190.11 39.57L190.46 39.57L190.81 39.57L191.16 39.56L191.50 39.56L191.85 39.56L192.20 39.56L192.55 39.56L192.90 39.55L193.24 39.55L193.59 39.55L193.94 39.55L194.29 39.55L194.64 39.55L194.98 39.54L195.33 39.54L195.68 39.54L196.03 39.54L196.38 39.54L196.72 39.54L197.07 39.54L197.42 39.53L197.77 39.53L198.12 39.53L198.46 39.53L198.81 39.53L199.16 39.53L199.51 39.53L199.86 39.53L200.20 39.53L200.55 39.53L200.90 39.52L201.25 39.52L201.60 39.52L201.94 39.52L202.29 39.52L202.64 39.52L202.99 39.52L203.34 39.52L203.68 39.52L204.03 39.52L204.38 39.52L204.73 39.52L205.08 39.52L205.42 39.52L205.77 39.52L206.12 39.52L206.47 39.51L206.82 39.51L207.16 39.51L207.51 39.51L207.86 39.51L208.21 39.51L208.56 39.51L208.90 39.51L209.25 39.51L209.60 39.51L209.95 39.51L210.30 39.51L210.64 39.51L210.99 39.51L211.34 39.51L211.69 39.51L212.04 39.51L212.38 39.51L212.73 39.51L213.08 39.51L213.43 39.51L213.78 39.51L214.12 39.51L214.47 39.51L214.82 39.51L215.17 39.51L215.52 39.51L215.86 39.51L216.21 39.51L216.56 39.51L216.91 39.51L217.26 39.51L217.60 39.51L217.95 39.50L218.30 39.50L218.65 39.50L219.00 39.50L219.34 39.50L219.69 39.50L220.04 39.50L220.39 39.50L220.74 39.50L221.08 39.50L221.43 39.50L221.78 39.50L222.13 39.50L222.48 39.50L222.82 39.50L223.17 39.50L223.52 39.50L223.87 39.50L224.22 39.50L224.56 39.50L224.91 39.50L225.26 39.50L225.61 39.50L225.95 39.50L226.30 39.50L226.65 39.50L227.00 39.50L227.35 39.50L227.69 39.50L228.04 39.50L228.39 39.50L228.74 39.50L229.09 39.50L229.43 39.50L229.78 39.50L230.13 39.50L230.48 39.50L230.83 39.50L231.17 39.50L231.52 39.50L231.87 39.50L232.22 39.50L232.57 39.50L232.91 39.50L233.26 39.50L233.61 39.50L233.96 39.50L234.31 39.50L234.65 39.50L235.00 39.50L235.35 39.50L235.70 39.50L236.05 39.50L236.39 39.50L236.74 39.50L237.09 39.50L237.44 39.50L237.79 39.50L238.13 39.50L238.48 39.50L238.83 39.50L239.18 39.50L239.53 39.50L239.87 39.50L240.22 39.50L240.57 39.50L240.92 39.50L241.27 39.50L241.61 39.50L241.96 39.50L242.31 39.50L242.66 39.50L243.01 39.50L243.35 39.50L243.70 39.50L244.05 39.50L244.40 39.50L244.75 39.50L245.09 39.50L245.44 39.50L245.79 39.50L246.14 39.50L246.49 39.50L246.83 39.50L247.18 39.50L247.53 39.50L247.88 39.50L248.23 39.50L248.57 39.50L248.92 39.50L249.27 39.50L249.62 39.50L249.97 39.50L250.31 39.50L250.66 39.50L251.01 39.50L251.36 39.50L251.71 39.50L252.05 39.50L252.40 39.50L252.75 39.50L253.10 39.50L253.45 39.50L253.79 39.50L254.14 39.50L254.49 39.50L254.84 39.50L255.19 39.50L255.53 39.50L255.88 39.50L256.23 39.50L256.58 39.50L256.93 39.50L257.27 39.50L257.62 39.50L257.97 39.50L258.32 39.50L258.67 39.50L259.01 39.50L259.36 39.50L259.71 39.50L260.06 39.50L260.41 39.50L260.75 39.50L261.10 39.50L261.45 39.50L261.80 39.50L262.15 39.50L262.49 39.50L262.84 39.50L263.19 39.50L263.54 39.50L263.89 39.50L264.23 39.50L264.58 39.50L264.93 39.50L265.28 39.50L265.63 39.50L265.97 39.50L266.32 39.50L266.67 39.50L267.02 39.50L267.37 39.50L267.71 39.50L268.06 39.50L268.41 39.50L268.76 39.50L269.11 39.50L269.45 39.50L269.80 39.50L270.15 39.50L270.50 39.50L270.85 39.50L271.19 39.50L271.54 39.50L271.89 39.50L272.24 39.50L272.59 39.50L272.93 39.50L273.28 39.50L273.63 39.50L273.98 39.50L274.33 39.50L274.67 39.50L275.02 39.50L275.37 39.50L275.72 39.50L276.07 39.50L276.41 39.50L276.76 39.50L277.11 39.50L277.46 39.50L277.81 39.50L278.15 39.50L278.50 39.50L278.85 39.50L279.20 39.50L279.55 39.50L279.89 39.50L280.24 39.50L280.59 39.50L280.94 39.50L281.28 39.50L281.63 39.50L281.98 39.50L282.33 39.50L282.68 39.50L283.02 39.50L283.37 39.50L283.72 39.50L284.07 39.50L284.42 39.50L284.76 39.50L285.11 39.50L285.46 39.50L285.81 39.50L286.16 39.50L286.50 39.50L286.85 39.50L287.20 39.50L287.55 39.50L287.90 39.50L288.24 39.50L288.59 39.50L288.94 39.50L289.29 39.50L289.64 39.50L289.98 39.50L290.33 39.50L290.68 39.50L291.03 39.50L291.38 39.50L291.72 39.50L292.07 39.50L292.42 39.50L292.77 39.50L293.12 39.50L293.46 39.50L293.81 39.50L294.16 39.50L294.51 39.50L294.86 39.50L295.20 39.50L295.55 39.50L295.90 39.50L296.25 39.50L296.60 39.50L296.94 39.50L297.29 39.50L297.64 39.50L297.99 39.50L298.34 39.50L298.68 39.50L299.03 39.50L299.38 39.50L299.73 39.50L300.08 39.50L300.42 39.50L300.77 39.50L301.12 39.50L301.47 39.50L301.82 39.50L302.16 39.50L302.51 39.50L302.86 39.50L303.21 39.50L303.56 39.50L303.90 39.50L304.25 39.50L304.60 39.50L304.95 39.50L305.30 39.50L305.64 39.50L305.99 39.50L306.34 39.50L306.69 39.50L307.04 39.50L307.38 39.50L307.73 39.50L308.08 39.50L308.43 39.50L308.78 39.50L309.12 39.50L309.47 39.50L309.82 39.50L310.17 39.50L310.52 39.50L310.86 39.50L311.21 39.50L311.56 39.50L311.91 39.50L312.26 39.50L312.60 39.50L312.95 39.50L313.30 39.50L313.65 39.50L314.00 39.50L314.34 39.50L314.69 39.50L315.04 39.50L315.39 39.50L315.74 39.50L316.08 39.50L316.43 39.50L316.78 39.50L317.13 39.50L317.48 39.50L317.82 39.50L318.17 39.50L318.52 39.50L318.87 39.50L319.22 39.50L319.56 39.50L319.91 39.50L320.26 39.50L320.61 39.50L320.96 39.50L321.30 39.50L321.65 39.50L322.00 39.50L322.35 39.50L322.70 39.50L323.04 39.50L323.39 39.50L323.74 39.50L324.09 39.50L324.44 39.50L324.78 39.50L325.13 39.50L325.48 39.50L325.83 39.50L326.18 39.50L326.52 39.50L326.87 39.50L327.22 39.50L327.57 39.50L327.92 39.50L328.26 39.50L328.61 39.50L328.96 39.50L329.31 39.50L329.66 39.50L330.00 39.50L330.35 39.50L330.70 39.50L331.05 39.50L331.40 39.50L331.74 39.50L332.09 39.50L332.44 39.50L332.79 39.50L333.14 39.50L333.48 39.50L333.83 39.50L334.18 39.50L334.53 39.50" stroke="#00f" stroke-width="2.5" fill="none" stroke-dasharray="4 2 7.2 2" stroke-linejoin="round"/>
<path d="M425.15 227.45L425.50 227.45L425.85 227.45L426.19 227.45L426.54 227.45L426.89 227.45L427.24 227.45L427.59 227.45L427.93 227.45L428.28 227.45L428.63 227.45L428.98 227.45L429.33 227.45L429.67 227.45L430.02 227.45L430.37 227.45L430.72 227.45L431.07 227.45L431.41 227.45L431.76 227.45L432.11 227.45L432.46 227.45L432.81 227.45L433.15 227.45L433.50 227.45L433.85 227.45L434.20 227.45L434.55 227.45L434.89 227.45L435.24 227.45L435.59 227.45L435.94 227.45L436.29 227.45L436.63 227.45L436.98 227.45L437.33 227.45L437.68 227.45L438.03 227.45L438.37 227.45L438.72 227.45L439.07 227.45L439.42 227.45L439.77 227.45L440.11 227.45L440.46 227.45L440.81 227.45L441.16 227.45L441.51 227.45L441.85 227.45L442.20 227.45L442.55 227.45L442.90 227.45L443.25 227.45L443.59 227.45L443.94 227.45L444.29 227.45L444.64 227.45L444.99 227.45L445.33 227.45L445.68 227.45L446.03 227.45L446.38 227.45L446.73 227.45L447.07 227.45L447.42 227.45L447.77 227.45L448.12 227.45L448.47 227.45L448.81 227.45L449.16 227.45L449.51 227.45L449.86 227.45L450.21 227.45L450.55 227.45L450.90 227.45L451.25 227.45L451.60 227.45L451.95 227.45L452.29 227.45L452.64 227.45L452.99 227.45L453.34 227.45L453.69 227.45L454.03 227.45L454.38 227.45L454.73 227.45L455.08 227.45L455.43 227.45L455.77 227.45L456.12 227.45L456.47 227.45L456.82 227.45L457.17 227.45L457.51 227.45L457.86 227.45L458.21 227.45L458.56 227.45L458.91 227.45L459.25 227.45L459.60 227.45L459.95 227.45L460.30 227.45L460.65 227.45L460.99 227.45L461.34 227.45L461.69 227.45L462.04 227.45L462.39 227.45L462.73 227.45L463.08 227.45L463.43 227.45L463.78 227.45L464.13 227.45L464.47 227.45L464.82 227.45L465.17 227.45L465.52 227.45L465.87 227.45L466.21 227.44L466.56 227.44L466.91 227.44L467.26 227.44L467.60 227.43L467.95 227.42L468.30 227.41L468.65 227.40L469.00 227.38L469.34 227.36L469.69 227.33L470.04 227.29L470.39 227.23L470.74 227.15L471.08 227.05L471.43 226.91L471.78 226.73L472.13 226.49L472.48 226.16L472.82 225.73L473.17 225.16L473.52 224.41L473.87 223.42L474.22 222.12L474.56 220.44L474.91 218.26L475.26 215.46L475.61 211.90L475.96 207.42L476.30 201.86L476.65 195.08L477.00 186.97L477.35 177.49L477.70 166.75L478.04 154.95L478.39 142.47L478.74 129.76L479.09 117.32L479.44 105.61L479.78 94.98L480.13 85.63L480.48 77.65L480.83 70.99L481.18 65.54L481.52 61.16L481.87 57.67L482.22 54.94L482.57 52.81L482.92 51.17L483.26 49.91L483.61 48.94L483.96 48.21L484.31 47.65L484.66 47.23L485.00 46.92L485.35 46.68L485.70 46.50L486.05 46.37L486.40 46.27L486.74 46.19L487.09 46.14L487.44 46.10L487.79 46.07L488.14 46.04L488.48 46.03L488.83 46.02L489.18 46.01L489.53 46.00L489.88 45.99L490.22 45.99L490.57 45.99L490.92 45.99L491.27 45.98L491.62 45.98L491.96 45.98L492.31 45.98L492.66 45.98L493.01 45.98L493.36 45.98L493.70 45.98L494.05 45.98L494.40 45.98L494.75 45.98L495.10 45.98L495.44 45.98L495.79 45.98L496.14 45.98L496.49 45.98L496.84 45.98L497.18 45.98L497.53 45.98L497.88 45.98L498.23 45.98L498.58 45.98L498.92 45.98L499.27 45.98L499.62 45.98L499.97 45.98L500.32 45.98L500.66 45.98L501.01 45.98L501.36 45.98L501.71 45.98L502.06 45.98L502.40 45.98L502.75 45.98L503.10 45.98L503.45 45.98L503.80 45.98L504.14 45.98L504.49 45.98L504.84 45.98L505.19 45.98L505.54 45.98L505.88 45.98L506.23 45.98L506.58 45.98L506.93 45.98L507.28 45.98L507.62 45.98L507.97 45.98L508.32 45.98L508.67 45.98L509.02 45.98L509.36 45.98L509.71 45.98L510.06 45.98L510.41 45.98L510.76 45.98L511.10 45.98L511.45 45.98L511.80 45.98L512.15 45.98L512.50 45.98L512.84 45.98L513.19 45.98L513.54 45.98L513.89 45.98L514.24 45.98L514.58 45.98L514.93 45.98L515.28 45.98L515.63 45.98L515.98 45.98L516.32 45.98L516.67 45.98L517.02 45.98L517.37 45.98L517.72 45.98L518.06 45.98L518.41 45.99L518.76 45.99L519.11 45.99L519.46 45.99L519.80 46.00L520.15 46.01L520.50 46.02L520.85 46.03L521.19 46.04L521.54 46.07L521.89 46.10L522.24 46.14L522.59 46.19L522.93 46.26L523.28 46.36L523.63 46.49L523.98 46.67L524.33 46.90L524.67 47.21L525.02 47.63L525.37 48.18L525.72 48.90L526.07 49.85L526.41 51.09L526.76 52.71L527.11 54.81L527.46 57.51L527.81 60.95L528.15 65.28L528.50 70.66L528.85 77.26L529.20 85.17L529.55 94.44L529.89 105.01L530.24 116.67L530.59 129.07L530.94 141.78L531.29 154.29L531.63 166.13L531.98 176.94L532.33 186.49L532.68 194.68L533.03 201.53L533.37 207.15L533.72 211.68L534.07 215.29L534.42 218.12L534.77 220.33L535.11 222.04L535.46 223.36L535.81 224.36L536.16 225.12L536.51 225.70L536.85 226.14L537.20 226.47L537.55 226.72L537.90 226.91L538.25 227.05L538.59 227.15L538.94 227.23L539.29 227.28L539.64 227.33L539.99 227.36L540.33 227.38L540.68 227.40L541.03 227.41L541.38 227.42L541.73 227.43L542.07 227.44L542.42 227.44L542.77 227.44L543.12 227.44L543.47 227.45L543.81 227.45L544.16 227.45L544.51 227.45L544.86 227.45L545.21 227.45L545.55 227.45L545.90 227.45L546.25 227.45L546.60 227.45L546.95 227.45L547.29 227.45L547.64 227.45L547.99 227.45L548.34 227.45L548.69 227.45L549.03 227.45L549.38 227.45L549.73 227.45L550.08 227.45L550.43 227.45L550.77 227.45L551.12 227.45L551.47 227.45L551.82 227.45L552.17 227.45L552.51 227.45L552.86 227.45L553.21 227.45L553.56 227.45L553.91 227.45L554.25 227.45L554.60 227.45L554.95 227.45L555.30 227.45L555.65 227.45L555.99 227.45L556.34 227.45L556.69 227.45L557.04 227.45L557.39 227.45L557.73 227.45L558.08 227.45L558.43 227.45L558.78 227.45L559.13 227.45L559.47 227.45L559.82 227.45L560.17 227.45L560.52 227.45L560.87 227.45L561.21 227.45L561.56 227.45L561.91 227.45L562.26 227.45L562.61 227.45L562.95 227.45L563.30 227.45L563.65 227.45L564.00 227.45L564.35 227.45L564.69 227.45L565.04 227.45L565.39 227.45L565.74 227.45L566.09 227.45L566.43 227.45L566.78 227.45L567.13 227.45L567.48 227.45L567.83 227.45L568.17 227.45L568.52 227.45L568.87 227.45L569.22 227.45L569.57 227.45L569.91 227.45L570.26 227.45L570.61 227.45L570.96 227.45L571.31 227.45L571.65 227.45L572.00 227.45L572.35 227.45L572.70 227.45L573.05 227.45L573.39 227.45L573.74 227.45L574.09 227.45L574.44 227.45L574.79 227.45L575.13 227.45L575.48 227.45L575.83 227.45L576.18 227.45L576.52 227.45L576.87 227.45L577.22 227.45L577.57 227.45L577.92 227.45L578.26 227.45L578.61 227.45L578.96 227.45L579.31 227.45L579.66 227.45L580.00 227.45L580.35 227.45L580.70 227.45L581.05 227.45L581.40 227.45L581.74 227.45L582.09 227.45L582.44 227.45L582.79 227.45L583.14 227.45L583.48 227.45L583.83 227.45L584.18 227.45L584.53 227.45L584.88 227.45L585.22 227.45L585.57 227.45L585.92 227.45L586.27 227.45L586.62 227.45L586.96 227.45L587.31 227.45L587.66 227.45L588.01 227.45L588.36 227.45L588.70 227.45L589.05 227.45L589.40 227.45L589.75 227.45L590.10 227.45L590.44 227.45L590.79 227.45L591.14 227.45L591.49 227.45L591.84 227.45L592.18 227.45L592.53 227.45L592.88 227.45L593.23 227.45L593.58 227.45L593.92 227.45L594.27 227.45L594.62 227.45L594.97 227.45L595.32 227.45L595.66 227.45L596.01 227.45L596.36 227.45L596.71 227.45L597.06 227.45L597.40 227.45L597.75 227.45L598.10 227.45L598.45 227.45L598.80 227.45L599.14 227.45L599.49 227.45L599.84 227.45L600.19 227.45L600.54 227.45L600.88 227.45L601.23 227.45L601.58 227.45L601.93 227.45L602.28 227.45L602.62 227.45L602.97 227.45L603.32 227.45L603.67 227.45L604.02 227.45L604.36 227.45L604.71 227.45L605.06 227.45L605.41 227.45L605.76 227.45L606.10 227.45L606.45 227.45L606.80 227.45L607.15 227.45L607.50 227.45L607.84 227.45L608.19 227.45L608.54 227.45L608.89 227.45L609.24 227.45L609.58 227.45L609.93 227.45L610.28 227.45L610.63 227.45L610.98 227.45L611.32 227.45L611.67 227.45L612.02 227.45L612.37 227.45L612.72 227.45L613.06 227.45L613.41 227.45L613.76 227.45L614.11 227.45L614.46 227.45L614.80 227.45L615.15 227.45L615.50 227.45L615.85 227.45L616.20 227.45L616.54 227.45L616.89 227.45L617.24 227.45L617.59 227.45L617.94 227.45L618.28 227.45L618.63 227.45L618.98 227.45L619.33 227.45L619.68 227.45L620.02 227.45L620.37 227.45L620.72 227.45L621.07 227.45L621.42 227.45L621.76 227.45L622.11 227.45L622.46 227.45L622.81 227.45L623.16 227.45L623.50 227.45L623.85 227.45L624.20 227.45L624.55 227.45L624.90 227.45L625.24 227.45L625.59 227.45L625.94 227.45L626.29 227.45L626.64 227.45L626.98 227.45L627.33 227.45L627.68 227.45L628.03 227.45L628.38 227.45L628.72 227.45L629.07 227.45L629.42 227.45L629.77 227.45L630.12 227.45L630.46 227.45L630.81 227.45L631.16 227.45L631.51 227.45L631.85 227.45L632.20 227.45L632.55 227.45L632.90 227.45L633.25 227.45L633.59 227.45L633.94 227.45L634.29 227.45L634.64 227.45L634.99 227.45L635.33 227.45L635.68 227.45L636.03 227.45L636.38 227.45L636.73 227.45L637.07 227.45L637.42 227.45L637.77 227.45L638.12 227.45L638.47 227.45L638.81 227.45L639.16 227.45L639.51 227.45L639.86 227.45L640.21 227.45L640.55 227.45L640.90 227.45L641.25 227.45L641.60 227.45L641.95 227.45L642.29 227.45L642.64 227.45L642.99 227.45L643.34 227.45L643.69 227.45L644.03 227.45L644.38 227.45L644.73 227.45L645.08 227.45L645.43 227.45L645.77 227.45L646.12 227.45L646.47 227.45L646.82 227.45L647.17 227.45L647.51 227.45L647.86 227.45L648.21 227.45L648.56 227.45L648.91 227.45L649.25 227.45L649.60 227.45L649.95 227.45L650.30 227.45L650.65 227.45L650.99 227.45L651.34 227.45L651.69 227.45L652.04 227.45L652.39 227.45L652.73 227.45L653.08 227.45L653.43 227.45L653.78 227.45L654.13 227.45L654.47 227.45L654.82 227.45L655.17 227.45L655.52 227.45L655.87 227.45L656.21 227.45L656.56 227.45L656.91 227.45L657.26 227.45L657.61 227.45L657.95 227.45L658.30 227.45L658.65 227.45L659.00 227.45L659.35 227.45L659.69 227.45L660.04 227.45L660.39 227.45L660.74 227.45L661.09 227.45L661.43 227.45L661.78 227.45L662.13 227.45L662.48 227.45L662.83 227.45L663.17 227.45L663.52 227.45L663.87 227.45L664.22 227.45L664.57 227.45L664.91 227.45L665.26 227.45L665.61 227.45L665.96 227.45L666.31 227.45L666.65 227.45L667.00 227.45L667.35 227.45L667.70 227.45L668.05 227.45L668.39 227.45L668.74 227.45L669.09 227.45L669.44 227.45L669.79 227.45L670.13 227.45L670.48 227.45L670.83 227.45L671.18 227.45L671.53 227.45L671.87 227.45L672.22 227.45L672.57 227.45L672.92 227.45L673.27 227.45L673.61 227.45L673.96 227.45L674.31 227.45L674.66 227.45L675.01 227.45L675.35 227.45L675.70 227.45L676.05 227.45L676.40 227.45L676.75 227.45L677.09 227.45L677.44 227.45L677.79 227.45L678.14 227.45L678.49 227.45L678.83 227.45L679.18 227.45L679.53 227.45L679.88 227.45L680.23 227.45L680.57 227.45L680.92 227.45L681.27 227.45L681.62 227.45L681.97 227.45L682.31 227.45L682.66 227.45L683.01 227.45L683.36 227.45L683.71 227.45L684.05 227.45L684.40 227.45L684.75 227.45L685.10 227.45L685.45 227.45L685.79 227.45L686.14 227.45L686.49 227.45L686.84 227.45L687.18 227.45L687.53 227.45L687.88 227.45L688.23 227.45L688.58 227.45L688.92 227.45L689.27 227.45L689.62 227.45L689.97 227.45L690.32 227.45L690.66 227.45L691.01 227.45L691.36 227.45L691.71 227.45L692.06 227.45L692.40 227.45L692.75 227.45L693.10 227.45L693.45 227.45L693.80 227.45L694.14 227.45L694.49 227.45L694.84 227.45L695.19 227.45L695.54 227.45L695.88 227.45L696.23 227.45L696.58 227.45L696.93 227.45L697.28 227.45L697.62 227.45L697.97 227.45L698.32 227.45L698.67 227.45L699.02 227.45L699.36 227.45L699.71 227.45L700.06 227.45L700.41 227.45L700.76 227.45L701.10 227.45L701.45 227.45L701.80 227.45L702.15 227.45L702.50 227.45L702.84 227.45L703.19 227.45L703.54 227.45L703.89 227.45L704.24 227.45L704.58 227.45L704.93 227.45L705.28 227.45L705.63 227.45L705.98 227.45L706.32 227.45L706.67 227.45L707.02 227.45L707.37 227.45L707.72 227.45L708.06 227.45L708.41 227.45L708.76 227.45L709.11 227.45L709.46 227.45L709.80 227.45L710.15 227.45L710.50 227.45L710.85 227.45L711.20 227.45L711.54 227.45L711.89 227.45L712.24 227.45L712.59 227.45L712.94 227.45L713.28 227.45L713.63 227.45L713.98 227.45L714.33 227.45L714.68 227.45L715.02 227.45L715.37 227.45L715.72 227.45L716.07 227.45L716.42 227.45L716.76 227.45L717.11 227.45L717.46 227.45L717.81 227.45L718.16 227.45L718.50 227.45L718.85 227.45L719.20 227.45L719.55 227.45L719.90 227.45L720.24 227.45L720.59 227.45L720.94 227.45L721.29 227.45L721.64 227.45L721.98 227.45L722.33 227.45L722.68 227.45L723.03 227.45L723.38 227.45L723.72 227.45L724.07 227.45L724.42 227.45L724.77 227.45L725.12 227.45L725.46 227.45L725.81 227.45L726.16 227.45L726.51 227.45L726.86 227.45L727.20 227.45L727.55 227.45L727.90 227.45L728.25 227.45L728.60 227.45L728.94 227.45L729.29 227.45L729.64 227.45L729.99 227.45L730.34 227.45L730.68 227.45L731.03 227.45L731.38 227.45L731.73 227.45L732.08 227.45L732.42 227.45L732.77 227.45L733.12 227.45L733.47 227.45L733.82 227.45L734.16 227.45L734.51 227.45L734.86 227.45L735.21 227.45L735.56 227.45L735.90 227.45L736.25 227.45L736.60 227.45L736.95 227.45L737.30 227.45L737.64 227.45L737.99 227.45L738.34 227.45L738.69 227.45L739.04 227.45L739.38 227.45L739.73 227.45L740.08 227.45L740.43 227.45" stroke="#000" stroke-width="2.5" fill="none" stroke-linejoin="round"/>
<path d="M425.15 227.43L425.50 227.42L425.85 227.42L426.19 227.42L426.54 227.42L426.89 227.42L427.24 227.41L427.59 227.41L427.93 227.41L428.28 227.41L428.63 227.40L428.98 227.40L429.33 227.40L429.67 227.40L430.02 227.39L430.37 227.39L430.72 227.38L431.07 227.38L431.41 227.38L431.76 227.37L432.11 227.37L432.46 227.36L432.81 227.36L433.15 227.35L433.50 227.34L433.85 227.34L434.20 227.33L434.55 227.32L434.89 227.32L435.24 227.31L435.59 227.30L435.94 227.29L436.29 227.28L436.63 227.27L436.98 227.26L437.33 227.25L437.68 227.23L438.03 227.22L438.37 227.21L438.72 227.19L439.07 227.17L439.42 227.16L439.77 227.14L440.11 227.12L440.46 227.10L440.81 227.08L441.16 227.06L441.51 227.03L441.85 227.01L442.20 226.98L442.55 226.95L442.90 226.92L443.25 226.89L443.59 226.85L443.94 226.82L444.29 226.78L444.64 226.74L444.99 226.70L445.33 226.65L445.68 226.60L446.03 226.55L446.38 226.50L446.73 226.44L447.07 226.38L447.42 226.32L447.77 226.25L448.12 226.18L448.47 226.10L448.81 226.02L449.16 225.94L449.51 225.85L449.86 225.75L450.21 225.65L450.55 225.54L450.90 225.43L451.25 225.31L451.60 225.18L451.95 225.05L452.29 224.91L452.64 224.76L452.99 224.61L453.34 224.44L453.69 224.26L454.03 224.08L454.38 223.88L454.73 223.68L455.08 223.46L455.43 223.23L455.77 222.99L456.12 222.73L456.47 222.46L456.82 222.18L457.17 221.88L457.51 221.56L457.86 221.23L458.21 220.88L458.56 220.51L458.91 220.12L459.25 219.71L459.60 219.28L459.95 218.83L460.30 218.35L460.65 217.85L460.99 217.32L461.34 216.77L461.69 216.19L462.04 215.58L462.39 214.94L462.73 214.27L463.08 213.56L463.43 212.83L463.78 212.05L464.13 211.24L464.47 210.40L464.82 209.51L465.17 208.58L465.52 207.61L465.87 206.60L466.21 205.55L466.56 204.44L466.91 203.30L467.26 202.10L467.60 200.86L467.95 199.56L468.30 198.22L468.65 196.82L469.00 195.37L469.34 193.86L469.69 192.31L470.04 190.69L470.39 189.03L470.74 187.31L471.08 185.53L471.43 183.70L471.78 181.82L472.13 179.88L472.48 177.89L472.82 175.85L473.17 173.75L473.52 171.61L473.87 169.42L474.22 167.19L474.56 164.92L474.91 162.60L475.26 160.25L475.61 157.86L475.96 155.44L476.30 152.99L476.65 150.51L477.00 148.02L477.35 145.50L477.70 142.98L478.04 140.44L478.39 137.90L478.74 135.35L479.09 132.81L479.44 130.27L479.78 127.75L480.13 125.24L480.48 122.75L480.83 120.28L481.18 117.83L481.52 115.41L481.87 113.03L482.22 110.68L482.57 108.37L482.92 106.10L483.26 103.88L483.61 101.70L483.96 99.56L484.31 97.48L484.66 95.45L485.00 93.47L485.35 91.54L485.70 89.67L486.05 87.85L486.40 86.08L486.74 84.37L487.09 82.72L487.44 81.12L487.79 79.58L488.14 78.09L488.48 76.65L488.83 75.27L489.18 73.94L489.53 72.66L489.88 71.43L490.22 70.25L490.57 69.13L490.92 68.04L491.27 67.01L491.62 66.02L491.96 65.07L492.31 64.16L492.66 63.30L493.01 62.48L493.36 61.69L493.70 60.95L494.05 60.24L494.40 59.56L494.75 58.92L495.10 58.32L495.44 57.74L495.79 57.20L496.14 56.68L496.49 56.20L496.84 55.74L497.18 55.31L497.53 54.90L497.88 54.52L498.23 54.16L498.58 53.83L498.92 53.52L499.27 53.23L499.62 52.96L499.97 52.71L500.32 52.49L500.66 52.28L501.01 52.09L501.36 51.92L501.71 51.77L502.06 51.64L502.40 51.52L502.75 51.42L503.10 51.34L503.45 51.27L503.80 51.22L504.14 51.19L504.49 51.17L504.84 51.17L505.19 51.19L505.54 51.22L505.88 51.27L506.23 51.33L506.58 51.41L506.93 51.51L507.28 51.63L507.62 51.76L507.97 51.91L508.32 52.08L508.67 52.27L509.02 52.48L509.36 52.70L509.71 52.95L510.06 53.21L510.41 53.50L510.76 53.81L511.10 54.14L511.45 54.50L511.80 54.88L512.15 55.28L512.50 55.71L512.84 56.17L513.19 56.66L513.54 57.17L513.89 57.71L514.24 58.29L514.58 58.89L514.93 59.53L515.28 60.20L515.63 60.91L515.98 61.65L516.32 62.44L516.67 63.26L517.02 64.12L517.37 65.02L517.72 65.96L518.06 66.95L518.41 67.99L518.76 69.07L519.11 70.19L519.46 71.37L519.80 72.59L520.15 73.87L520.50 75.20L520.85 76.58L521.19 78.01L521.54 79.50L521.89 81.04L522.24 82.63L522.59 84.28L522.93 85.99L523.28 87.75L523.63 89.57L523.98 91.44L524.33 93.36L524.67 95.34L525.02 97.37L525.37 99.45L525.72 101.58L526.07 103.76L526.41 105.98L526.76 108.25L527.11 110.56L527.46 112.90L527.81 115.28L528.15 117.70L528.50 120.14L528.85 122.61L529.20 125.10L529.55 127.61L529.89 130.14L530.24 132.67L530.59 135.21L530.94 137.76L531.29 140.30L531.63 142.84L531.98 145.37L532.33 147.88L532.68 150.38L533.03 152.85L533.37 155.30L533.72 157.73L534.07 160.12L534.42 162.47L534.77 164.79L535.11 167.07L535.46 169.31L535.81 171.50L536.16 173.64L536.51 175.73L536.85 177.78L537.20 179.77L537.55 181.71L537.90 183.60L538.25 185.43L538.59 187.21L538.94 188.94L539.29 190.61L539.64 192.22L539.99 193.78L540.33 195.29L540.68 196.74L541.03 198.14L541.38 199.49L541.73 200.79L542.07 202.03L542.42 203.23L542.77 204.38L543.12 205.49L543.47 206.55L543.81 207.56L544.16 208.53L544.51 209.46L544.86 210.35L545.21 211.20L545.55 212.01L545.90 212.79L546.25 213.53L546.60 214.23L546.95 214.91L547.29 215.55L547.64 216.16L547.99 216.74L548.34 217.30L548.69 217.82L549.03 218.33L549.38 218.80L549.73 219.26L550.08 219.69L550.43 220.10L550.77 220.49L551.12 220.86L551.47 221.21L551.82 221.55L552.17 221.86L552.51 222.16L552.86 222.45L553.21 222.72L553.56 222.97L553.91 223.22L554.25 223.45L554.60 223.67L554.95 223.87L555.30 224.07L555.65 224.25L555.99 224.43L556.34 224.60L556.69 224.75L557.04 224.90L557.39 225.04L557.73 225.18L558.08 225.30L558.43 225.42L558.78 225.54L559.13 225.64L559.47 225.74L559.82 225.84L560.17 225.93L560.52 226.02L560.87 226.10L561.21 226.17L561.56 226.24L561.91 226.31L562.26 226.38L562.61 226.44L562.95 226.50L563.30 226.55L563.65 226.60L564.00 226.65L564.35 226.69L564.69 226.74L565.04 226.78L565.39 226.82L565.74 226.85L566.09 226.89L566.43 226.92L566.78 226.95L567.13 226.98L567.48 227.01L567.83 227.03L568.17 227.06L568.52 227.08L568.87 227.10L569.22 227.12L569.57 227.14L569.91 227.16L570.26 227.17L570.61 227.19L570.96 227.20L571.31 227.22L571.65 227.23L572.00 227.24L572.35 227.26L572.70 227.27L573.05 227.28L573.39 227.29L573.74 227.30L574.09 227.31L574.44 227.32L574.79 227.32L575.13 227.33L575.48 227.34L575.83 227.34L576.18 227.35L576.52 227.36L576.87 227.36L577.22 227.37L577.57 227.37L577.92 227.38L578.26 227.38L578.61 227.38L578.96 227.39L579.31 227.39L579.66 227.40L580.00 227.40L580.35 227.40L580.70 227.40L581.05 227.41L581.40 227.41L581.74 227.41L582.09 227.41L582.44 227.42L582.79 227.42L583.14 227.42L583.48 227.42L583.83 227.42L584.18 227.43L584.53 227.43L584.88 227.43L585.22 227.43L585.57 227.43L585.92 227.43L586.27 227.43L586.62 227.43L586.96 227.43L587.31 227.44L587.66 227.44L588.01 227.44L588.36 227.44L588.70 227.44L589.05 227.44L589.40 227.44L589.75 227.44L590.10 227.44L590.44 227.44L590.79 227.44L591.14 227.44L591.49 227.44L591.84 227.44L592.18 227.44L592.53 227.44L592.88 227.44L593.23 227.45L593.58 227.45L593.92 227.45L594.27 227.45L594.62 227.45L594.97 227.45L595.32 227.45L595.66 227.45L596.01 227.45L596.36 227.45L596.71 227.45L597.06 227.45L597.40 227.45L597.75 227.45L598.10 227.45L598.45 227.45L598.80 227.45L599.14 227.45L599.49 227.45L599.84 227.45L600.19 227.45L600.54 227.45L600.88 227.45L601.23 227.45L601.58 227.45L601.93 227.45L602.28 227.45L602.62 227.45L602.97 227.45L603.32 227.45L603.67 227.45L604.02 227.45L604.36 227.45L604.71 227.45L605.06 227.45L605.41 227.45L605.76 227.45L606.10 227.45L606.45 227.45L606.80 227.45L607.15 227.45L607.50 227.45L607.84 227.45L608.19 227.45L608.54 227.45L608.89 227.45L609.24 227.45L609.58 227.45L609.93 227.45L610.28 227.45L610.63 227.45L610.98 227.45L611.32 227.45L611.67 227.45L612.02 227.45L612.37 227.45L612.72 227.45L613.06 227.45L613.41 227.45L613.76 227.45L614.11 227.45L614.46 227.45L614.80 227.45L615.15 227.45L615.50 227.45L615.85 227.45L616.20 227.45L616.54 227.45L616.89 227.45L617.24 227.45L617.59 227.45L617.94 227.45L618.28 227.45L618.63 227.45L618.98 227.45L619.33 227.45L619.68 227.45L620.02 227.45L620.37 227.45L620.72 227.45L621.07 227.45L621.42 227.45L621.76 227.45L622.11 227.45L622.46 227.45L622.81 227.45L623.16 227.45L623.50 227.45L623.85 227.45L624.20 227.45L624.55 227.45L624.90 227.45L625.24 227.45L625.59 227.45L625.94 227.45L626.29 227.45L626.64 227.45L626.98 227.45L627.33 227.45L627.68 227.45L628.03 227.45L628.38 227.45L628.72 227.45L629.07 227.45L629.42 227.45L629.77 227.45L630.12 227.45L630.46 227.45L630.81 227.45L631.16 227.45L631.51 227.45L631.85 227.45L632.20 227.45L632.55 227.45L632.90 227.45L633.25 227.45L633.59 227.45L633.94 227.45L634.29 227.45L634.64 227.45L634.99 227.45L635.33 227.45L635.68 227.45L636.03 227.45L636.38 227.45L636.73 227.45L637.07 227.45L637.42 227.45L637.77 227.45L638.12 227.45L638.47 227.45L638.81 227.45L639.16 227.45L639.51 227.45L639.86 227.45L640.21 227.45L640.55 227.45L640.90 227.45L641.25 227.45L641.60 227.45L641.95 227.45L642.29 227.45L642.64 227.45L642.99 227.45L643.34 227.45L643.69 227.45L644.03 227.45L644.38 227.45L644.73 227.45L645.08 227.45L645.43 227.45L645.77 227.45L646.12 227.45L646.47 227.45L646.82 227.45L647.17 227.45L647.51 227.45L647.86 227.45L648.21 227.45L648.56 227.45L648.91 227.45L649.25 227.45L649.60 227.45L649.95 227.45L650.30 227.45L650.65 227.45L650.99 227.45L651.34 227.45L651.69 227.45L652.04 227.45L652.39 227.45L652.73 227.45L653.08 227.45L653.43 227.45L653.78 227.45L654.13 227.45L654.47 227.45L654.82 227.45L655.17 227.45L655.52 227.45L655.87 227.45L656.21 227.45L656.56 227.45L656.91 227.45L657.26 227.45L657.61 227.45L657.95 227.45L658.30 227.45L658.65 227.45L659.00 227.45L659.35 227.45L659.69 227.45L660.04 227.45L660.39 227.45L660.74 227.45L661.09 227.45L661.43 227.45L661.78 227.45L662.13 227.45L662.48 227.45L662.83 227.45L663.17 227.45L663.52 227.45L663.87 227.45L664.22 227.45L664.57 227.45L664.91 227.45L665.26 227.45L665.61 227.45L665.96 227.45L666.31 227.45L666.65 227.45L667.00 227.45L667.35 227.45L667.70 227.45L668.05 227.45L668.39 227.45L668.74 227.45L669.09 227.45L669.44 227.45L669.79 227.45L670.13 227.45L670.48 227.45L670.83 227.45L671.18 227.45L671.53 227.45L671.87 227.45L672.22 227.45L672.57 227.45L672.92 227.45L673.27 227.45L673.61 227.45L673.96 227.45L674.31 227.45L674.66 227.45L675.01 227.45L675.35 227.45L675.70 227.45L676.05 227.45L676.40 227.45L676.75 227.45L677.09 227.45L677.44 227.45L677.79 227.45L678.14 227.45L678.49 227.45L678.83 227.45L679.18 227.45L679.53 227.45L679.88 227.45L680.23 227.45L680.57 227.45L680.92 227.45L681.27 227.45L681.62 227.45L681.97 227.45L682.31 227.45L682.66 227.45L683.01 227.45L683.36 227.45L683.71 227.45L684.05 227.45L684.40 227.45L684.75 227.45L685.10 227.45L685.45 227.45L685.79 227.45L686.14 227.45L686.49 227.45L686.84 227.45L687.18 227.45L687.53 227.45L687.88 227.45L688.23 227.45L688.58 227.45L688.92 227.45L689.27 227.45L689.62 227.45L689.97 227.45L690.32 227.45L690.66 227.45L691.01 227.45L691.36 227.45L691.71 227.45L692.06 227.45L692.40 227.45L692.75 227.45L693.10 227.45L693.45 227.45L693.80 227.45L694.14 227.45L694.49 227.45L694.84 227.45L695.19 227.45L695.54 227.45L695.88 227.45L696.23 227.45L696.58 227.45L696.93 227.45L697.28 227.45L697.62 227.45L697.97 227.45L698.32 227.45L698.67 227.45L699.02 227.45L699.36 227.45L699.71 227.45L700.06 227.45L700.41 227.45L700.76 227.45L701.10 227.45L701.45 227.45L701.80 227.45L702.15 227.45L702.50 227.45L702.84 227.45L703.19 227.45L703.54 227.45L703.89 227.45L704.24 227.45L704.58 227.45L704.93 227.45L705.28 227.45L705.63 227.45L705.98 227.45L706.32 227.45L706.67 227.45L707.02 227.45L707.37 227.45L707.72 227.45L708.06 227.45L708.41 227.45L708.76 227.45L709.11 227.45L709.46 227.45L709.80 227.45L710.15 227.45L710.50 227.45L710.85 227.45L711.20 227.45L711.54 227.45L711.89 227.45L712.24 227.45L712.59 227.45L712.94 227.45L713.28 227.45L713.63 227.45L713.98 227.45L714.33 227.45L714.68 227.45L715.02 227.45L715.37 227.45L715.72 227.45L716.07 227.45L716.42 227.45L716.76 227.45L717.11 227.45L717.46 227.45L717.81 227.45L718.16 227.45L718.50 227.45L718.85 227.45L719.20 227.45L719.55 227.45L719.90 227.45L720.24 227.45L720.59 227.45L720.94 227.45L721.29 227.45L721.64 227.45L721.98 227.45L722.33 227.45L722.68 227.45L723.03 227.45L723.38 227.45L723.72 227.45L724.07 227.45L724.42 227.45L724.77 227.45L725.12 227.45L725.46 227.45L725.81 227.45L726.16 227.45L726.51 227.45L726.86 227.45L727.20 227.45L727.55 227.45L727.90 227.45L728.25 227.45L728.60 227.45L728.94 227.45L729.29 227.45L729.64 227.45L729.99 227.45L730.34 227.45L730.68 227.45L731.03 227.45L731.38 227.45L731.73 227.45L732.08 227.45L732.42 227.45L732.77 227.45L733.12 227.45L733.47 227.45L733.82 227.45L734.16 227.45L734.51 227.45L734.86 227.45L735.21 227.45L735.56 227.45L735.90 227.45L736.25 227.45L736.60 227.45L736.95 227.45L737.30 227.45L737.64 227.45L737.99 227.45L738.34 227.45L738.69 227.45L739.04 227.45L739.38 227.45L739.73 227.45L740.08 227.45L740.43 227.45" stroke="#f00" stroke-width="2.5" fill="none" stroke-dasharray="7.2 2" stroke-linejoin="round"/>
<path d="M425.15 225.12L425.50 225.05L425.85 224.98L426.19 224.91L426.54 224.83L426.89 224.76L427.24 224.68L427.59 224.60L427.93 224.52L428.28 224.44L428.63 224.35L428.98 224.26L429.33 224.17L429.67 224.08L430.02 223.98L430.37 223.88L430.72 223.78L431.07 223.68L431.41 223.57L431.76 223.46L432.11 223.34L432.46 223.23L432.81 223.11L433.15 222.99L433.50 222.86L433.85 222.73L434.20 222.60L434.55 222.46L434.89 222.32L435.24 222.18L435.59 222.03L435.94 221.88L436.29 221.72L436.63 221.56L436.98 221.40L437.33 221.23L437.68 221.06L438.03 220.88L438.37 220.70L438.72 220.51L439.07 220.32L439.42 220.12L439.77 219.92L440.11 219.72L440.46 219.50L440.81 219.29L441.16 219.06L441.51 218.84L441.85 218.60L442.20 218.36L442.55 218.11L442.90 217.86L443.25 217.60L443.59 217.34L443.94 217.06L444.29 216.79L444.64 216.50L444.99 216.21L445.33 215.91L445.68 215.60L446.03 215.28L446.38 214.96L446.73 214.63L447.07 214.29L447.42 213.95L447.77 213.59L448.12 213.23L448.47 212.86L448.81 212.48L449.16 212.09L449.51 211.69L449.86 211.29L450.21 210.87L450.55 210.44L450.90 210.01L451.25 209.56L451.60 209.11L451.95 208.64L452.29 208.17L452.64 207.68L452.99 207.18L453.34 206.68L453.69 206.16L454.03 205.63L454.38 205.09L454.73 204.54L455.08 203.98L455.43 203.40L455.77 202.81L456.12 202.22L456.47 201.61L456.82 200.98L457.17 200.35L457.51 199.70L457.86 199.04L458.21 198.37L458.56 197.69L458.91 196.99L459.25 196.28L459.60 195.56L459.95 194.82L460.30 194.08L460.65 193.32L460.99 192.54L461.34 191.75L461.69 190.95L462.04 190.14L462.39 189.31L462.73 188.47L463.08 187.62L463.43 186.75L463.78 185.87L464.13 184.98L464.47 184.08L464.82 183.16L465.17 182.23L465.52 181.28L465.87 180.33L466.21 179.36L466.56 178.38L466.91 177.39L467.26 176.38L467.60 175.37L467.95 174.34L468.30 173.30L468.65 172.25L469.00 171.19L469.34 170.12L469.69 169.04L470.04 167.95L470.39 166.85L470.74 165.74L471.08 164.62L471.43 163.50L471.78 162.36L472.13 161.22L472.48 160.07L472.82 158.91L473.17 157.75L473.52 156.58L473.87 155.40L474.22 154.22L474.56 153.04L474.91 151.85L475.26 150.66L475.61 149.46L475.96 148.27L476.30 147.07L476.65 145.86L477.00 144.66L477.35 143.46L477.70 142.26L478.04 141.05L478.39 139.85L478.74 138.65L479.09 137.46L479.44 136.26L479.78 135.07L480.13 133.89L480.48 132.70L480.83 131.53L481.18 130.36L481.52 129.19L481.87 128.03L482.22 126.88L482.57 125.74L482.92 124.60L483.26 123.48L483.61 122.36L483.96 121.26L484.31 120.16L484.66 119.08L485.00 118.00L485.35 116.94L485.70 115.89L486.05 114.86L486.40 113.83L486.74 112.82L487.09 111.83L487.44 110.85L487.79 109.88L488.14 108.93L488.48 107.99L488.83 107.07L489.18 106.17L489.53 105.28L489.88 104.41L490.22 103.56L490.57 102.72L490.92 101.91L491.27 101.11L491.62 100.32L491.96 99.56L492.31 98.81L492.66 98.09L493.01 97.38L493.36 96.69L493.70 96.02L494.05 95.38L494.40 94.75L494.75 94.14L495.10 93.55L495.44 92.98L495.79 92.43L496.14 91.90L496.49 91.39L496.84 90.90L497.18 90.44L497.53 89.99L497.88 89.56L498.23 89.16L498.58 88.77L498.92 88.41L499.27 88.07L499.62 87.75L499.97 87.45L500.32 87.17L500.66 86.91L501.01 86.68L501.36 86.46L501.71 86.27L502.06 86.10L502.40 85.95L502.75 85.82L503.10 85.71L503.45 85.62L503.80 85.56L504.14 85.52L504.49 85.49L504.84 85.49L505.19 85.51L505.54 85.56L505.88 85.62L506.23 85.71L506.58 85.81L506.93 85.94L507.28 86.09L507.62 86.26L507.97 86.45L508.32 86.67L508.67 86.90L509.02 87.16L509.36 87.43L509.71 87.73L510.06 88.05L510.41 88.39L510.76 88.75L511.10 89.14L511.45 89.54L511.80 89.97L512.15 90.41L512.50 90.88L512.84 91.36L513.19 91.87L513.54 92.40L513.89 92.95L514.24 93.52L514.58 94.10L514.93 94.71L515.28 95.34L515.63 95.99L515.98 96.66L516.32 97.34L516.67 98.05L517.02 98.77L517.37 99.52L517.72 100.28L518.06 101.06L518.41 101.86L518.76 102.68L519.11 103.51L519.46 104.37L519.80 105.24L520.15 106.12L520.50 107.02L520.85 107.94L521.19 108.88L521.54 109.83L521.89 110.79L522.24 111.77L522.59 112.77L522.93 113.78L523.28 114.80L523.63 115.84L523.98 116.88L524.33 117.95L524.67 119.02L525.02 120.10L525.37 121.20L525.72 122.30L526.07 123.42L526.41 124.54L526.76 125.68L527.11 126.82L527.46 127.97L527.81 129.13L528.15 130.29L528.50 131.46L528.85 132.64L529.20 133.82L529.55 135.01L529.89 136.20L530.24 137.39L530.59 138.59L530.94 139.79L531.29 140.99L531.63 142.19L531.98 143.39L532.33 144.60L532.68 145.80L533.03 147.00L533.37 148.20L533.72 149.40L534.07 150.59L534.42 151.79L534.77 152.98L535.11 154.16L535.46 155.34L535.81 156.52L536.16 157.69L536.51 158.85L536.85 160.01L537.20 161.16L537.55 162.30L537.90 163.44L538.25 164.56L538.59 165.68L538.94 166.79L539.29 167.89L539.64 168.98L539.99 170.06L540.33 171.14L540.68 172.20L541.03 173.25L541.38 174.29L541.73 175.31L542.07 176.33L542.42 177.33L542.77 178.33L543.12 179.31L543.47 180.28L543.81 181.23L544.16 182.18L544.51 183.11L544.86 184.03L545.21 184.93L545.55 185.83L545.90 186.71L546.25 187.57L546.60 188.43L546.95 189.27L547.29 190.09L547.64 190.91L547.99 191.71L548.34 192.50L548.69 193.27L549.03 194.04L549.38 194.78L549.73 195.52L550.08 196.24L550.43 196.95L550.77 197.65L551.12 198.34L551.47 199.01L551.82 199.67L552.17 200.32L552.51 200.95L552.86 201.57L553.21 202.18L553.56 202.78L553.91 203.37L554.25 203.94L554.60 204.51L554.95 205.06L555.30 205.60L555.65 206.13L555.99 206.65L556.34 207.16L556.69 207.65L557.04 208.14L557.39 208.62L557.73 209.08L558.08 209.54L558.43 209.98L558.78 210.42L559.13 210.85L559.47 211.26L559.82 211.67L560.17 212.07L560.52 212.46L560.87 212.84L561.21 213.21L561.56 213.57L561.91 213.93L562.26 214.28L562.61 214.61L562.95 214.94L563.30 215.27L563.65 215.58L564.00 215.89L564.35 216.19L564.69 216.48L565.04 216.77L565.39 217.05L565.74 217.32L566.09 217.59L566.43 217.85L566.78 218.10L567.13 218.35L567.48 218.59L567.83 218.82L568.17 219.05L568.52 219.28L568.87 219.49L569.22 219.71L569.57 219.91L569.91 220.11L570.26 220.31L570.61 220.50L570.96 220.69L571.31 220.87L571.65 221.05L572.00 221.22L572.35 221.39L572.70 221.55L573.05 221.71L573.39 221.87L573.74 222.02L574.09 222.17L574.44 222.31L574.79 222.45L575.13 222.59L575.48 222.72L575.83 222.85L576.18 222.98L576.52 223.10L576.87 223.22L577.22 223.34L577.57 223.45L577.92 223.56L578.26 223.67L578.61 223.77L578.96 223.88L579.31 223.97L579.66 224.07L580.00 224.17L580.35 224.26L580.70 224.35L581.05 224.43L581.40 224.52L581.74 224.60L582.09 224.68L582.44 224.76L582.79 224.83L583.14 224.90L583.48 224.98L583.83 225.04L584.18 225.11L584.53 225.18L584.88 225.24L585.22 225.30L585.57 225.36L585.92 225.42L586.27 225.48L586.62 225.54L586.96 225.59L587.31 225.64L587.66 225.69L588.01 225.74L588.36 225.79L588.70 225.84L589.05 225.89L589.40 225.93L589.75 225.97L590.10 226.02L590.44 226.06L590.79 226.10L591.14 226.13L591.49 226.17L591.84 226.21L592.18 226.24L592.53 226.28L592.88 226.31L593.23 226.34L593.58 226.38L593.92 226.41L594.27 226.44L594.62 226.47L594.97 226.49L595.32 226.52L595.66 226.55L596.01 226.57L596.36 226.60L596.71 226.62L597.06 226.65L597.40 226.67L597.75 226.69L598.10 226.72L598.45 226.74L598.80 226.76L599.14 226.78L599.49 226.80L599.84 226.82L600.19 226.83L600.54 226.85L600.88 226.87L601.23 226.89L601.58 226.90L601.93 226.92L602.28 226.93L602.62 226.95L602.97 226.96L603.32 226.98L603.67 226.99L604.02 227.00L604.36 227.02L604.71 227.03L605.06 227.04L605.41 227.05L605.76 227.07L606.10 227.08L606.45 227.09L606.80 227.10L607.15 227.11L607.50 227.12L607.84 227.13L608.19 227.14L608.54 227.15L608.89 227.16L609.24 227.16L609.58 227.17L609.93 227.18L610.28 227.19L610.63 227.20L610.98 227.20L611.32 227.21L611.67 227.22L612.02 227.23L612.37 227.23L612.72 227.24L613.06 227.24L613.41 227.25L613.76 227.26L614.11 227.26L614.46 227.27L614.80 227.27L615.15 227.28L615.50 227.28L615.85 227.29L616.20 227.29L616.54 227.30L616.89 227.30L617.24 227.31L617.59 227.31L617.94 227.31L618.28 227.32L618.63 227.32L618.98 227.33L619.33 227.33L619.68 227.33L620.02 227.34L620.37 227.34L620.72 227.34L621.07 227.35L621.42 227.35L621.76 227.35L622.11 227.36L622.46 227.36L622.81 227.36L623.16 227.36L623.50 227.37L623.85 227.37L624.20 227.37L624.55 227.37L624.90 227.38L625.24 227.38L625.59 227.38L625.94 227.38L626.29 227.38L626.64 227.39L626.98 227.39L627.33 227.39L627.68 227.39L628.03 227.39L628.38 227.40L628.72 227.40L629.07 227.40L629.42 227.40L629.77 227.40L630.12 227.40L630.46 227.40L630.81 227.41L631.16 227.41L631.51 227.41L631.85 227.41L632.20 227.41L632.55 227.41L632.90 227.41L633.25 227.41L633.59 227.42L633.94 227.42L634.29 227.42L634.64 227.42L634.99 227.42L635.33 227.42L635.68 227.42L636.03 227.42L636.38 227.42L636.73 227.42L637.07 227.42L637.42 227.43L637.77 227.43L638.12 227.43L638.47 227.43L638.81 227.43L639.16 227.43L639.51 227.43L639.86 227.43L640.21 227.43L640.55 227.43L640.90 227.43L641.25 227.43L641.60 227.43L641.95 227.43L642.29 227.43L642.64 227.43L642.99 227.43L643.34 227.44L643.69 227.44L644.03 227.44L644.38 227.44L644.73 227.44L645.08 227.44L645.43 227.44L645.77 227.44L646.12 227.44L646.47 227.44L646.82 227.44L647.17 227.44L647.51 227.44L647.86 227.44L648.21 227.44L648.56 227.44L648.91 227.44L649.25 227.44L649.60 227.44L649.95 227.44L650.30 227.44L650.65 227.44L650.99 227.44L651.34 227.44L651.69 227.44L652.04 227.44L652.39 227.44L652.73 227.44L653.08 227.44L653.43 227.44L653.78 227.44L654.13 227.44L654.47 227.44L654.82 227.44L655.17 227.44L655.52 227.45L655.87 227.45L656.21 227.45L656.56 227.45L656.91 227.45L657.26 227.45L657.61 227.45L657.95 227.45L658.30 227.45L658.65 227.45L659.00 227.45L659.35 227.45L659.69 227.45L660.04 227.45L660.39 227.45L660.74 227.45L661.09 227.45L661.43 227.45L661.78 227.45L662.13 227.45L662.48 227.45L662.83 227.45L663.17 227.45L663.52 227.45L663.87 227.45L664.22 227.45L664.57 227.45L664.91 227.45L665.26 227.45L665.61 227.45L665.96 227.45L666.31 227.45L666.65 227.45L667.00 227.45L667.35 227.45L667.70 227.45L668.05 227.45L668.39 227.45L668.74 227.45L669.09 227.45L669.44 227.45L669.79 227.45L670.13 227.45L670.48 227.45L670.83 227.45L671.18 227.45L671.53 227.45L671.87 227.45L672.22 227.45L672.57 227.45L672.92 227.45L673.27 227.45L673.61 227.45L673.96 227.45L674.31 227.45L674.66 227.45L675.01 227.45L675.35 227.45L675.70 227.45L676.05 227.45L676.40 227.45L676.75 227.45L677.09 227.45L677.44 227.45L677.79 227.45L678.14 227.45L678.49 227.45L678.83 227.45L679.18 227.45L679.53 227.45L679.88 227.45L680.23 227.45L680.57 227.45L680.92 227.45L681.27 227.45L681.62 227.45L681.97 227.45L682.31 227.45L682.66 227.45L683.01 227.45L683.36 227.45L683.71 227.45L684.05 227.45L684.40 227.45L684.75 227.45L685.10 227.45L685.45 227.45L685.79 227.45L686.14 227.45L686.49 227.45L686.84 227.45L687.18 227.45L687.53 227.45L687.88 227.45L688.23 227.45L688.58 227.45L688.92 227.45L689.27 227.45L689.62 227.45L689.97 227.45L690.32 227.45L690.66 227.45L691.01 227.45L691.36 227.45L691.71 227.45L692.06 227.45L692.40 227.45L692.75 227.45L693.10 227.45L693.45 227.45L693.80 227.45L694.14 227.45L694.49 227.45L694.84 227.45L695.19 227.45L695.54 227.45L695.88 227.45L696.23 227.45L696.58 227.45L696.93 227.45L697.28 227.45L697.62 227.45L697.97 227.45L698.32 227.45L698.67 227.45L699.02 227.45L699.36 227.45L699.71 227.45L700.06 227.45L700.41 227.45L700.76 227.45L701.10 227.45L701.45 227.45L701.80 227.45L702.15 227.45L702.50 227.45L702.84 227.45L703.19 227.45L703.54 227.45L703.89 227.45L704.24 227.45L704.58 227.45L704.93 227.45L705.28 227.45L705.63 227.45L705.98 227.45L706.32 227.45L706.67 227.45L707.02 227.45L707.37 227.45L707.72 227.45L708.06 227.45L708.41 227.45L708.76 227.45L709.11 227.45L709.46 227.45L709.80 227.45L710.15 227.45L710.50 227.45L710.85 227.45L711.20 227.45L711.54 227.45L711.89 227.45L712.24 227.45L712.59 227.45L712.94 227.45L713.28 227.45L713.63 227.45L713.98 227.45L714.33 227.45L714.68 227.45L715.02 227.45L715.37 227.45L715.72 227.45L716.07 227.45L716.42 227.45L716.76 227.45L717.11 227.45L717.46 227.45L717.81 227.45L718.16 227.45L718.50 227.45L718.85 227.45L719.20 227.45L719.55 227.45L719.90 227.45L720.24 227.45L720.59 227.45L720.94 227.45L721.29 227.45L721.64 227.45L721.98 227.45L722.33 227.45L722.68 227.45L723.03 227.45L723.38 227.45L723.72 227.45L724.07 227.45L724.42 227.45L724.77 227.45L725.12 227.45L725.46 227.45L725.81 227.45L726.16 227.45L726.51 227.45L726.86 227.45L727.20 227.45L727.55 227.45L727.90 227.45L728.25 227.45L728.60 227.45L728.94 227.45L729.29 227.45L729.64 227.45L729.99 227.45L730.34 227.45L730.68 227.45L731.03 227.45L731.38 227.45L731.73 227.45L732.08 227.45L732.42 227.45L732.77 227.45L733.12 227.45L733.47 227.45L733.82 227.45L734.16 227.45L734.51 227.45L734.86 227.45L735.21 227.45L735.56 227.45L735.90 227.45L736.25 227.45L736.60 227.45L736.95 227.45L737.30 227.45L737.64 227.45L737.99 227.45L738.34 227.45L738.69 227.45L739.04 227.45L739.38 227.45L739.73 227.45L740.08 227.45L740.43 227.45" stroke="#00f" stroke-width="2.5" fill="none" stroke-dasharray="4 2 7.2 2" stroke-linejoin="round"/>
<path d="M163.0 132.1h44.3" stroke="#000" stroke-width="2.5"/>
<path d="M163.0 170.3h44.3" stroke="#f00" stroke-width="2.5" stroke-dasharray="7.2 2"/>
<path d="M163.0 207.9h43" stroke="#00f" stroke-width="2.5" stroke-dasharray="4 2 7.2 2"/>
<g font-family="Liberation Serif" font-size="22" fill="#000" stroke="#000" stroke-width="0.25">
<text transform="translate(220.32 140.50) scale(1.1 1)" font-style="italic">T</text>
<path d="M235.20 144.70L240.80 124.20" stroke="#000" stroke-width="1.3" fill="none"/>
<text x="240.61" y="140.50" font-style="italic">m</text>
<text transform="translate(257.74 140.50) scale(1.16 1)" font-style="italic">α</text>
<text x="268.93" y="133.30" font-size="15" font-style="italic">2</text>
<text x="277.80" y="143.40">=</text>
<text transform="translate(291.45 141.80) scale(1 1.075)" font-size="22.3">0.01</text>
<text transform="translate(220.75 179.70) scale(1 1.075)" font-size="22.3">0.05</text>
<text transform="translate(220.75 217.40) scale(1 1.075)" font-size="22.3">0.1</text>
</g>
<path d="M569.4 54.6h44.3" stroke="#000" stroke-width="2.5"/>
<path d="M569.4 92.8h44.3" stroke="#f00" stroke-width="2.5" stroke-dasharray="7.2 2"/>
<path d="M569.4 130.4h43" stroke="#00f" stroke-width="2.5" stroke-dasharray="4 2 7.2 2"/>
<g font-family="Liberation Serif" font-size="22" fill="#000" stroke="#000" stroke-width="0.25">
<text transform="translate(626.72 63.00) scale(1.1 1)" font-style="italic">T</text>
<path d="M641.60 67.20L647.20 46.70" stroke="#000" stroke-width="1.3" fill="none"/>
<text x="647.01" y="63.00" font-style="italic">m</text>
<text transform="translate(664.14 63.00) scale(1.16 1)" font-style="italic">α</text>
<text x="675.33" y="55.80" font-size="15" font-style="italic">2</text>
<text x="684.20" y="65.90">=</text>
<text transform="translate(697.85 64.30) scale(1 1.075)" font-size="22.3">0.01</text>
<text transform="translate(627.15 102.20) scale(1 1.075)" font-size="22.3">0.05</text>
<text transform="translate(627.15 139.90) scale(1 1.075)" font-size="22.3">0.1</text>
</g>
<g font-family="Liberation Serif" font-size="19.3" fill="#000">
<text x="-0.15" y="14.50" font-size="19.3">(a)</text>
<text x="405.15" y="12.30" font-size="19.3">(b)</text>
</g>
</svg>
</body></html>
